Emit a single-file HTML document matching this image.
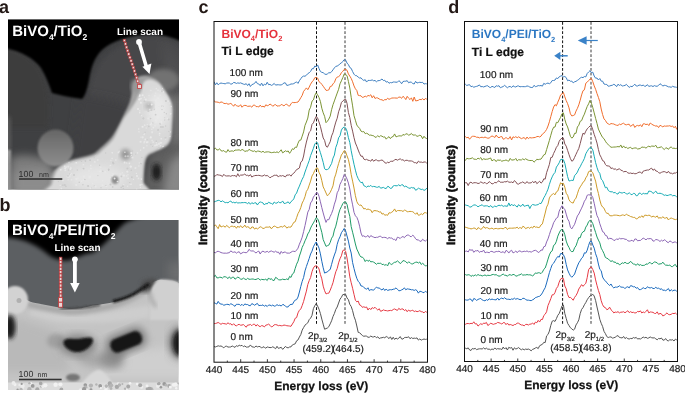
<!DOCTYPE html>
<html><head><meta charset="utf-8"><style>
html,body{margin:0;padding:0;background:#fff;}
body{width:685px;height:393px;position:relative;overflow:hidden;font-family:"Liberation Sans",sans-serif;}
svg{position:absolute;left:0;top:0;}
text{opacity:0.995;text-rendering:geometricPrecision;}
.pl{font:bold 18px "Liberation Sans",sans-serif;fill:#231815;}
.tk{font:10px "Liberation Sans",sans-serif;fill:#1a1a1a;stroke:#1a1a1a;stroke-width:0.2px;}
.lb{font:10px "Liberation Sans",sans-serif;fill:#1a1a1a;stroke:#1a1a1a;stroke-width:0.2px;}
.sub{font-size:7.5px;}
.sub2{font-size:5.9px;}
.ttl{font:bold 12px "Liberation Sans",sans-serif;}
.ttl2{font:bold 12px "Liberation Sans",sans-serif;fill:#111;stroke:#111;stroke-width:0.2px;}
.ax{font:bold 12px "Liberation Sans",sans-serif;fill:#111;stroke:#111;stroke-width:0.25px;}
</style></head><body>
<svg width="685" height="393" viewBox="0 0 685 393">
<defs>
<clipPath id="pa"><rect x="8" y="19.5" width="171" height="170"/></clipPath>
<clipPath id="corec"><path d="M144.00,82.00 C145.58,80.08 148.17,79.67 150.00,79.50 C151.83,79.33 153.33,80.17 155.00,81.00 C156.67,81.83 158.33,82.67 160.00,84.50 C161.67,86.33 163.33,89.42 165.00,92.00 C166.67,94.58 168.83,97.33 170.00,100.00 C171.17,102.67 171.75,103.83 172.00,108.00 C172.25,112.17 171.75,120.17 171.50,125.00 C171.25,129.83 171.25,133.83 170.50,137.00 C169.75,140.17 168.75,142.08 167.00,144.00 C165.25,145.92 162.33,147.25 160.00,148.50 C157.67,149.75 155.08,150.50 153.00,151.50 C150.92,152.50 148.92,153.08 147.50,154.50 C146.08,155.92 145.22,157.42 144.50,160.00 C143.78,162.58 143.52,166.33 143.20,170.00 C142.88,173.67 142.77,177.83 142.60,182.00 C142.43,186.17 157.47,192.83 142.20,195.00 C126.93,197.17 66.03,196.83 51.00,195.00 C35.97,193.17 51.17,187.83 52.00,184.00 C52.83,180.17 54.17,175.08 56.00,172.00 C57.83,168.92 60.33,167.25 63.00,165.50 C65.67,163.75 66.83,163.08 72.00,161.50 C77.17,159.92 88.67,158.17 94.00,156.00 C99.33,153.83 100.83,151.25 104.00,148.50 C107.17,145.75 110.42,143.08 113.00,139.50 C115.58,135.92 117.58,130.67 119.50,127.00 C121.42,123.33 122.67,120.42 124.50,117.50 C126.33,114.58 128.58,112.25 130.50,109.50 C132.42,106.75 134.33,104.08 136.00,101.00 C137.67,97.92 139.17,94.17 140.50,91.00 C141.83,87.83 142.42,83.92 144.00,82.00 Z"/></clipPath>
<clipPath id="pb"><rect x="8" y="220" width="170.5" height="170"/></clipPath>
<filter id="b05" x="-50%" y="-50%" width="200%" height="200%"><feGaussianBlur stdDeviation="0.6"/></filter>
<filter id="b1" x="-20%" y="-20%" width="140%" height="140%"><feGaussianBlur stdDeviation="1.2"/></filter>
<filter id="b2" x="-20%" y="-20%" width="140%" height="140%"><feGaussianBlur stdDeviation="2.2"/></filter>
<filter id="b4" x="-30%" y="-30%" width="160%" height="160%"><feGaussianBlur stdDeviation="4"/></filter>
<filter id="b7" x="-30%" y="-30%" width="160%" height="160%"><feGaussianBlur stdDeviation="7"/></filter>
<linearGradient id="gblob" x1="0" y1="0" x2="0" y2="1"><stop offset="0" stop-color="#666"/><stop offset="1" stop-color="#8e8e8e"/></linearGradient>
</defs>
<!-- ============ PANEL A ============ -->
<g clip-path="url(#pa)">
<rect x="8" y="19.5" width="171" height="170" fill="#3f4042"/>
<path d="M0,45 C15,47 30,55 40,68 C47,80 49,95 49,115 L48,128 L0,128 Z" fill="#3d3d3e" filter="url(#b2)"/>
<circle cx="150" cy="98" r="61" fill="#474748" filter="url(#b2)"/>
<path d="M80,94 C98,97 115,100 132,106 L132,170 L70,170 Z" fill="#3f4043" filter="url(#b4)"/>
<path d="M162,40 C176,50 182,70 182,110 L182,160 L168,160 L168,60 Z" fill="#575758" filter="url(#b7)"/>
<path d="M0,0 H190 V46 C176,38 165,34.5 150,34.5 C130,35 112,41 102,50 C94,58 91,68 89,80 C87,90 85,96 82,99 C75,98 62,96 52,93 C49,85 46,76 41,68 C33,58 22,51 0,47 Z" fill="#050505" filter="url(#b1)"/>
<path d="M0,112 L10,118 L10.5,150 L0,150 Z" fill="#5e5e5e" filter="url(#b2)"/>
<path d="M0,148 L11,150 L12,195 L0,195 Z" fill="#9c9c9c" filter="url(#b1)"/>
<path d="M10,158 C22,152 36,156 50,160 L60,195 L10,195 Z" fill="#7c7c7c" filter="url(#b4)"/>
<path d="M14,172 C25,168 38,168 50,170 L55,195 L14,195 Z" fill="#8c8c8c" filter="url(#b4)"/>
<ellipse cx="55.5" cy="148" rx="18" ry="18.5" fill="url(#gblob)" filter="url(#b1)"/>
<path d="M170,95 L186,95 L186,150 L170,150 Z" fill="#707070" filter="url(#b4)"/>
<path d="M150,152 L186,140 L186,195 L140,195 Z" fill="#5f5f5f" filter="url(#b4)"/>
<path d="M170,162 L186,150 L186,195 L162,195 Z" fill="#888888" filter="url(#b4)"/>
<ellipse cx="156.5" cy="172" rx="4.5" ry="8.5" fill="#1c1c1c" filter="url(#b2)"/>
<ellipse cx="163" cy="80" rx="16" ry="11" fill="#727272" filter="url(#b2)"/>
<path d="M136.00,79.50 C137.17,77.70 138.33,76.85 140.00,76.20 C141.67,75.55 144.00,75.38 146.00,75.60 C148.00,75.82 150.00,76.60 152.00,77.50 C154.00,78.40 155.90,78.95 158.00,81.00 C160.10,83.05 162.68,86.68 164.60,89.80 C166.52,92.92 168.30,96.33 169.50,99.70 C170.70,103.07 171.42,105.78 171.80,110.00 C172.18,114.22 171.93,120.33 171.80,125.00 C171.67,129.67 171.63,134.67 171.00,138.00 C170.37,141.33 169.67,143.08 168.00,145.00 C166.33,146.92 163.33,148.25 161.00,149.50 C158.67,150.75 156.08,151.50 154.00,152.50 C151.92,153.50 149.92,154.08 148.50,155.50 C147.08,156.92 146.22,158.58 145.50,161.00 C144.78,163.42 144.52,166.50 144.20,170.00 C143.88,173.50 143.77,177.83 143.60,182.00 C143.43,186.17 159.05,192.83 143.20,195.00 C127.35,197.17 64.12,196.83 48.50,195.00 C32.88,193.17 49.00,187.33 49.50,184.00 C50.00,180.67 50.58,177.40 51.50,175.00 C52.42,172.60 53.32,171.40 55.00,169.60 C56.68,167.80 59.22,165.72 61.60,164.20 C63.98,162.68 66.20,161.60 69.30,160.50 C72.40,159.40 76.25,158.68 80.20,157.60 C84.15,156.52 89.53,155.68 93.00,154.00 C96.47,152.32 98.00,150.17 101.00,147.50 C104.00,144.83 108.17,141.50 111.00,138.00 C113.83,134.50 115.92,130.25 118.00,126.50 C120.08,122.75 121.67,119.25 123.50,115.50 C125.33,111.75 127.75,107.08 129.00,104.00 C130.25,100.92 130.33,99.83 131.00,97.00 C131.67,94.17 132.17,89.92 133.00,87.00 C133.83,84.08 134.83,81.30 136.00,79.50 Z" fill="#a3a3a3" filter="url(#b1)"/>
<path d="M144.00,82.00 C145.58,80.08 148.17,79.67 150.00,79.50 C151.83,79.33 153.33,80.17 155.00,81.00 C156.67,81.83 158.33,82.67 160.00,84.50 C161.67,86.33 163.33,89.42 165.00,92.00 C166.67,94.58 168.83,97.33 170.00,100.00 C171.17,102.67 171.75,103.83 172.00,108.00 C172.25,112.17 171.75,120.17 171.50,125.00 C171.25,129.83 171.25,133.83 170.50,137.00 C169.75,140.17 168.75,142.08 167.00,144.00 C165.25,145.92 162.33,147.25 160.00,148.50 C157.67,149.75 155.08,150.50 153.00,151.50 C150.92,152.50 148.92,153.08 147.50,154.50 C146.08,155.92 145.22,157.42 144.50,160.00 C143.78,162.58 143.52,166.33 143.20,170.00 C142.88,173.67 142.77,177.83 142.60,182.00 C142.43,186.17 157.47,192.83 142.20,195.00 C126.93,197.17 66.03,196.83 51.00,195.00 C35.97,193.17 51.17,187.83 52.00,184.00 C52.83,180.17 54.17,175.08 56.00,172.00 C57.83,168.92 60.33,167.25 63.00,165.50 C65.67,163.75 66.83,163.08 72.00,161.50 C77.17,159.92 88.67,158.17 94.00,156.00 C99.33,153.83 100.83,151.25 104.00,148.50 C107.17,145.75 110.42,143.08 113.00,139.50 C115.58,135.92 117.58,130.67 119.50,127.00 C121.42,123.33 122.67,120.42 124.50,117.50 C126.33,114.58 128.58,112.25 130.50,109.50 C132.42,106.75 134.33,104.08 136.00,101.00 C137.67,97.92 139.17,94.17 140.50,91.00 C141.83,87.83 142.42,83.92 144.00,82.00 Z" fill="#d9d9d9" filter="url(#b1)"/>
<ellipse cx="136" cy="86" rx="5" ry="7" fill="#969696" filter="url(#b2)"/>
<ellipse cx="158" cy="110" rx="11" ry="18" fill="#e8e8e8" filter="url(#b4)"/>
<ellipse cx="98" cy="178" rx="28" ry="12" fill="#e4e4e4" filter="url(#b4)"/>
<ellipse cx="125.5" cy="154.5" rx="5" ry="5.5" fill="#979797" filter="url(#b2)"/>
<ellipse cx="115" cy="180" rx="3.5" ry="4" fill="#8e8e8e" filter="url(#b1)"/>
<ellipse cx="149" cy="106" rx="4" ry="3.5" fill="#b0b0b0" filter="url(#b2)"/>
<g clip-path="url(#corec)"><g filter="url(#b05)"><circle cx="140.9" cy="102.7" r="1.00" fill="#e9e9e9"/><circle cx="141.2" cy="114.9" r="0.84" fill="#cdcdcd"/><circle cx="143.4" cy="133.5" r="0.66" fill="#cdcdcd"/><circle cx="155.6" cy="114.7" r="0.89" fill="#cdcdcd"/><circle cx="163.1" cy="147.3" r="0.74" fill="#e6e6e6"/><circle cx="161.7" cy="106.1" r="0.60" fill="#cdcdcd"/><circle cx="171.1" cy="106.5" r="0.76" fill="#e6e6e6"/><circle cx="157.9" cy="117.2" r="0.99" fill="#e9e9e9"/><circle cx="139.0" cy="131.8" r="0.79" fill="#e6e6e6"/><circle cx="160.5" cy="145.8" r="0.70" fill="#e6e6e6"/><circle cx="159.4" cy="106.5" r="0.97" fill="#e6e6e6"/><circle cx="145.4" cy="139.5" r="0.93" fill="#e9e9e9"/><circle cx="161.2" cy="138.8" r="0.81" fill="#e9e9e9"/><circle cx="167.9" cy="94.3" r="1.02" fill="#e9e9e9"/><circle cx="151.4" cy="117.7" r="0.67" fill="#e6e6e6"/><circle cx="147.9" cy="142.0" r="0.74" fill="#e9e9e9"/><circle cx="157.1" cy="112.8" r="0.91" fill="#e9e9e9"/><circle cx="144.1" cy="134.3" r="0.98" fill="#e6e6e6"/><circle cx="157.3" cy="145.1" r="0.70" fill="#e6e6e6"/><circle cx="143.7" cy="147.8" r="0.91" fill="#e9e9e9"/><circle cx="158.6" cy="148.2" r="0.99" fill="#cdcdcd"/><circle cx="139.8" cy="110.9" r="0.64" fill="#e9e9e9"/><circle cx="144.6" cy="101.3" r="1.03" fill="#cdcdcd"/><circle cx="148.1" cy="118.6" r="1.02" fill="#e6e6e6"/><circle cx="170.8" cy="131.9" r="0.71" fill="#e9e9e9"/><circle cx="162.0" cy="91.2" r="0.94" fill="#cdcdcd"/><circle cx="150.5" cy="124.6" r="0.93" fill="#e9e9e9"/><circle cx="155.8" cy="122.4" r="0.70" fill="#e9e9e9"/><circle cx="154.8" cy="95.8" r="0.84" fill="#e9e9e9"/><circle cx="164.3" cy="112.4" r="0.61" fill="#cdcdcd"/><circle cx="155.9" cy="100.7" r="0.97" fill="#e9e9e9"/><circle cx="150.9" cy="144.4" r="0.80" fill="#cdcdcd"/><circle cx="149.9" cy="109.6" r="0.84" fill="#e6e6e6"/><circle cx="156.6" cy="145.1" r="0.88" fill="#e6e6e6"/><circle cx="163.3" cy="146.7" r="1.02" fill="#e9e9e9"/><circle cx="165.6" cy="138.8" r="0.73" fill="#e9e9e9"/><circle cx="154.4" cy="109.2" r="0.73" fill="#cdcdcd"/><circle cx="148.8" cy="126.4" r="0.89" fill="#cdcdcd"/><circle cx="141.5" cy="115.4" r="0.79" fill="#e6e6e6"/><circle cx="141.0" cy="98.5" r="0.86" fill="#e9e9e9"/><circle cx="151.8" cy="129.3" r="0.77" fill="#e6e6e6"/><circle cx="169.7" cy="103.1" r="0.67" fill="#e6e6e6"/><circle cx="147.5" cy="109.1" r="0.71" fill="#cdcdcd"/><circle cx="169.9" cy="95.8" r="0.81" fill="#cdcdcd"/><circle cx="160.7" cy="142.9" r="1.10" fill="#e6e6e6"/><circle cx="156.3" cy="142.6" r="0.63" fill="#e6e6e6"/><circle cx="158.0" cy="98.8" r="0.98" fill="#e9e9e9"/><circle cx="156.3" cy="88.6" r="0.63" fill="#e9e9e9"/><circle cx="152.1" cy="140.5" r="0.72" fill="#e6e6e6"/><circle cx="151.8" cy="104.4" r="0.95" fill="#e9e9e9"/><circle cx="148.5" cy="111.1" r="0.98" fill="#cdcdcd"/><circle cx="164.7" cy="120.0" r="0.68" fill="#cdcdcd"/><circle cx="153.1" cy="142.1" r="0.88" fill="#e6e6e6"/><circle cx="138.0" cy="109.1" r="0.98" fill="#e9e9e9"/><circle cx="161.3" cy="122.8" r="0.93" fill="#e9e9e9"/><circle cx="161.2" cy="121.9" r="0.88" fill="#e9e9e9"/><circle cx="160.7" cy="108.1" r="0.93" fill="#e6e6e6"/><circle cx="164.7" cy="117.8" r="0.61" fill="#cdcdcd"/><circle cx="156.3" cy="141.2" r="0.92" fill="#cdcdcd"/><circle cx="151.3" cy="110.1" r="0.96" fill="#cdcdcd"/><circle cx="140.6" cy="141.7" r="1.04" fill="#e6e6e6"/><circle cx="142.6" cy="95.2" r="1.05" fill="#e9e9e9"/><circle cx="151.6" cy="104.8" r="0.79" fill="#e9e9e9"/><circle cx="143.5" cy="118.2" r="0.93" fill="#cdcdcd"/><circle cx="162.5" cy="88.8" r="1.01" fill="#cdcdcd"/><circle cx="152.8" cy="122.9" r="0.74" fill="#cdcdcd"/><circle cx="168.1" cy="101.2" r="0.87" fill="#e6e6e6"/><circle cx="158.9" cy="143.9" r="1.04" fill="#e6e6e6"/><circle cx="142.6" cy="126.7" r="1.05" fill="#e9e9e9"/><circle cx="152.1" cy="132.2" r="0.97" fill="#e6e6e6"/><circle cx="153.3" cy="127.6" r="0.93" fill="#e9e9e9"/><circle cx="160.2" cy="123.8" r="0.95" fill="#cdcdcd"/><circle cx="155.4" cy="108.9" r="0.82" fill="#e6e6e6"/><circle cx="144.4" cy="97.2" r="0.61" fill="#e9e9e9"/><circle cx="167.0" cy="149.3" r="0.72" fill="#e6e6e6"/><circle cx="144.7" cy="125.2" r="0.84" fill="#e6e6e6"/><circle cx="165.9" cy="101.0" r="1.04" fill="#cdcdcd"/><circle cx="165.5" cy="137.7" r="1.06" fill="#cdcdcd"/><circle cx="155.0" cy="125.8" r="0.88" fill="#e6e6e6"/><circle cx="155.1" cy="145.5" r="1.05" fill="#e6e6e6"/><circle cx="138.7" cy="129.1" r="0.76" fill="#e9e9e9"/><circle cx="142.7" cy="137.3" r="1.08" fill="#e6e6e6"/><circle cx="155.7" cy="111.8" r="0.85" fill="#e6e6e6"/><circle cx="163.4" cy="92.0" r="0.71" fill="#e9e9e9"/><circle cx="167.5" cy="118.6" r="0.93" fill="#e9e9e9"/><circle cx="159.6" cy="133.5" r="0.87" fill="#e9e9e9"/><circle cx="145.8" cy="99.6" r="1.10" fill="#e9e9e9"/><circle cx="161.5" cy="142.6" r="0.72" fill="#e6e6e6"/><circle cx="139.7" cy="112.8" r="0.76" fill="#e9e9e9"/><circle cx="152.5" cy="146.4" r="0.66" fill="#cdcdcd"/><circle cx="170.1" cy="90.8" r="1.07" fill="#cdcdcd"/><circle cx="162.7" cy="88.2" r="0.82" fill="#e6e6e6"/><circle cx="161.0" cy="127.0" r="1.00" fill="#cdcdcd"/><circle cx="151.6" cy="126.0" r="0.61" fill="#e6e6e6"/><circle cx="166.4" cy="113.8" r="0.72" fill="#cdcdcd"/><circle cx="160.1" cy="91.0" r="0.72" fill="#e6e6e6"/><circle cx="148.3" cy="104.0" r="0.97" fill="#cdcdcd"/><circle cx="168.7" cy="131.5" r="0.75" fill="#cdcdcd"/><circle cx="149.0" cy="95.6" r="0.72" fill="#e6e6e6"/><circle cx="162.9" cy="106.3" r="0.77" fill="#cdcdcd"/><circle cx="165.3" cy="147.4" r="0.64" fill="#e9e9e9"/><circle cx="163.8" cy="118.7" r="0.81" fill="#e6e6e6"/><circle cx="159.5" cy="135.1" r="0.63" fill="#e9e9e9"/><circle cx="170.6" cy="113.8" r="0.83" fill="#e9e9e9"/><circle cx="147.3" cy="124.4" r="0.70" fill="#e6e6e6"/><circle cx="168.7" cy="119.4" r="1.01" fill="#cdcdcd"/><circle cx="144.1" cy="142.8" r="0.66" fill="#e9e9e9"/><circle cx="162.5" cy="106.7" r="0.66" fill="#e6e6e6"/><circle cx="141.0" cy="137.2" r="0.61" fill="#e6e6e6"/><circle cx="170.1" cy="136.5" r="0.79" fill="#e6e6e6"/><circle cx="144.5" cy="141.8" r="0.99" fill="#e6e6e6"/><circle cx="156.0" cy="120.6" r="1.09" fill="#e9e9e9"/><circle cx="155.8" cy="93.2" r="0.64" fill="#e9e9e9"/><circle cx="162.9" cy="127.0" r="0.97" fill="#cdcdcd"/><circle cx="148.0" cy="111.0" r="0.73" fill="#cdcdcd"/><circle cx="147.1" cy="139.7" r="0.67" fill="#cdcdcd"/><circle cx="145.1" cy="132.3" r="0.80" fill="#cdcdcd"/><circle cx="171.1" cy="143.4" r="0.71" fill="#cdcdcd"/><circle cx="143.3" cy="118.5" r="0.89" fill="#cdcdcd"/><circle cx="158.1" cy="130.0" r="1.01" fill="#cdcdcd"/><circle cx="146.2" cy="128.0" r="0.63" fill="#e9e9e9"/><circle cx="139.9" cy="95.2" r="0.99" fill="#e6e6e6"/><circle cx="150.6" cy="118.6" r="0.83" fill="#cdcdcd"/><circle cx="139.6" cy="99.3" r="1.03" fill="#e6e6e6"/><circle cx="149.5" cy="114.1" r="0.73" fill="#e6e6e6"/><circle cx="161.9" cy="111.8" r="0.85" fill="#e9e9e9"/><circle cx="151.5" cy="123.5" r="0.90" fill="#e9e9e9"/><circle cx="168.7" cy="146.9" r="0.63" fill="#cdcdcd"/><circle cx="150.9" cy="90.5" r="0.79" fill="#e6e6e6"/><circle cx="161.1" cy="123.2" r="0.64" fill="#e9e9e9"/><circle cx="165.6" cy="126.0" r="0.75" fill="#cdcdcd"/><circle cx="139.3" cy="99.6" r="0.99" fill="#e9e9e9"/><circle cx="139.6" cy="96.2" r="0.85" fill="#e6e6e6"/><circle cx="158.0" cy="90.3" r="0.74" fill="#e9e9e9"/><circle cx="162.0" cy="109.6" r="0.70" fill="#cdcdcd"/><circle cx="146.9" cy="145.7" r="0.62" fill="#e6e6e6"/><circle cx="156.8" cy="144.4" r="0.95" fill="#e6e6e6"/><circle cx="160.1" cy="95.4" r="0.85" fill="#e6e6e6"/><circle cx="146.9" cy="142.3" r="1.03" fill="#e9e9e9"/><circle cx="150.8" cy="137.4" r="1.09" fill="#e9e9e9"/></g>
<g filter="url(#b05)"><circle cx="89.0" cy="171.0" r="0.68" fill="#e5e5e5"/><circle cx="118.5" cy="152.4" r="0.90" fill="#e5e5e5"/><circle cx="67.5" cy="176.8" r="0.98" fill="#e5e5e5"/><circle cx="90.8" cy="165.6" r="0.80" fill="#e8e8e8"/><circle cx="117.3" cy="181.5" r="0.66" fill="#e5e5e5"/><circle cx="62.6" cy="159.4" r="0.97" fill="#e5e5e5"/><circle cx="136.7" cy="189.2" r="0.63" fill="#e8e8e8"/><circle cx="131.3" cy="170.2" r="0.77" fill="#cbcbcb"/><circle cx="123.7" cy="184.6" r="0.67" fill="#e8e8e8"/><circle cx="70.4" cy="157.2" r="0.87" fill="#cbcbcb"/><circle cx="79.2" cy="182.2" r="0.78" fill="#cbcbcb"/><circle cx="110.9" cy="160.5" r="0.63" fill="#e5e5e5"/><circle cx="141.9" cy="157.4" r="0.67" fill="#cbcbcb"/><circle cx="58.3" cy="181.6" r="0.64" fill="#cbcbcb"/><circle cx="61.3" cy="188.6" r="0.86" fill="#e5e5e5"/><circle cx="133.4" cy="179.4" r="0.61" fill="#e8e8e8"/><circle cx="112.1" cy="152.6" r="0.61" fill="#e5e5e5"/><circle cx="83.8" cy="179.9" r="0.86" fill="#e8e8e8"/><circle cx="123.9" cy="175.6" r="1.09" fill="#e8e8e8"/><circle cx="129.7" cy="182.9" r="0.89" fill="#cbcbcb"/><circle cx="100.5" cy="167.2" r="0.92" fill="#e5e5e5"/><circle cx="94.9" cy="175.9" r="0.75" fill="#e5e5e5"/><circle cx="76.2" cy="154.3" r="1.00" fill="#e5e5e5"/><circle cx="128.1" cy="178.3" r="0.90" fill="#e8e8e8"/><circle cx="62.9" cy="185.2" r="0.84" fill="#cbcbcb"/><circle cx="68.2" cy="179.8" r="0.67" fill="#e8e8e8"/><circle cx="138.5" cy="178.4" r="0.87" fill="#e5e5e5"/><circle cx="77.3" cy="170.0" r="0.64" fill="#cbcbcb"/><circle cx="81.5" cy="161.4" r="0.68" fill="#cbcbcb"/><circle cx="63.3" cy="151.0" r="0.77" fill="#cbcbcb"/><circle cx="141.3" cy="179.1" r="0.81" fill="#e8e8e8"/><circle cx="68.2" cy="166.7" r="0.93" fill="#e5e5e5"/><circle cx="127.4" cy="168.5" r="1.03" fill="#cbcbcb"/><circle cx="129.4" cy="163.3" r="0.83" fill="#e8e8e8"/><circle cx="71.5" cy="173.4" r="0.62" fill="#e5e5e5"/><circle cx="71.7" cy="169.1" r="0.69" fill="#cbcbcb"/><circle cx="58.1" cy="166.9" r="0.81" fill="#e5e5e5"/><circle cx="68.5" cy="169.9" r="0.75" fill="#cbcbcb"/><circle cx="64.8" cy="166.4" r="0.93" fill="#e5e5e5"/><circle cx="117.9" cy="181.6" r="0.61" fill="#e5e5e5"/><circle cx="76.1" cy="161.3" r="0.90" fill="#cbcbcb"/><circle cx="105.7" cy="153.0" r="0.74" fill="#cbcbcb"/><circle cx="71.5" cy="179.8" r="0.94" fill="#e5e5e5"/><circle cx="131.6" cy="155.4" r="0.61" fill="#e5e5e5"/><circle cx="89.4" cy="176.7" r="1.07" fill="#e8e8e8"/><circle cx="69.5" cy="173.9" r="0.61" fill="#cbcbcb"/><circle cx="126.7" cy="162.9" r="0.65" fill="#e8e8e8"/><circle cx="127.6" cy="186.3" r="0.69" fill="#e5e5e5"/><circle cx="141.8" cy="184.4" r="0.76" fill="#e5e5e5"/><circle cx="70.7" cy="167.5" r="0.70" fill="#e5e5e5"/><circle cx="73.3" cy="160.9" r="1.04" fill="#cbcbcb"/><circle cx="135.5" cy="168.0" r="0.97" fill="#e5e5e5"/><circle cx="101.0" cy="187.8" r="0.69" fill="#cbcbcb"/><circle cx="100.7" cy="170.3" r="0.77" fill="#e5e5e5"/><circle cx="83.6" cy="153.6" r="0.85" fill="#e8e8e8"/><circle cx="130.8" cy="166.6" r="1.09" fill="#e8e8e8"/><circle cx="139.2" cy="162.8" r="0.66" fill="#e5e5e5"/><circle cx="137.0" cy="176.0" r="1.08" fill="#e8e8e8"/><circle cx="98.1" cy="171.0" r="0.64" fill="#e5e5e5"/><circle cx="135.7" cy="154.1" r="0.67" fill="#cbcbcb"/><circle cx="60.8" cy="169.8" r="0.90" fill="#e8e8e8"/><circle cx="131.8" cy="177.2" r="0.92" fill="#cbcbcb"/><circle cx="108.6" cy="170.2" r="0.64" fill="#cbcbcb"/><circle cx="112.1" cy="158.5" r="0.81" fill="#e5e5e5"/><circle cx="112.4" cy="174.0" r="0.72" fill="#e8e8e8"/><circle cx="69.8" cy="176.5" r="0.96" fill="#e5e5e5"/><circle cx="69.1" cy="160.8" r="0.67" fill="#cbcbcb"/><circle cx="82.9" cy="184.8" r="0.73" fill="#cbcbcb"/><circle cx="112.1" cy="175.4" r="1.07" fill="#e5e5e5"/><circle cx="136.4" cy="173.4" r="0.60" fill="#e8e8e8"/><circle cx="85.4" cy="179.6" r="0.77" fill="#e5e5e5"/><circle cx="67.9" cy="175.9" r="0.79" fill="#cbcbcb"/><circle cx="137.5" cy="152.9" r="0.78" fill="#e5e5e5"/><circle cx="90.9" cy="168.5" r="0.77" fill="#e8e8e8"/><circle cx="66.2" cy="162.8" r="1.04" fill="#cbcbcb"/><circle cx="84.0" cy="176.7" r="1.00" fill="#e8e8e8"/><circle cx="124.9" cy="152.2" r="0.68" fill="#e5e5e5"/><circle cx="81.5" cy="181.1" r="0.92" fill="#e8e8e8"/><circle cx="131.3" cy="153.1" r="1.07" fill="#e8e8e8"/><circle cx="78.0" cy="178.4" r="0.60" fill="#e8e8e8"/><circle cx="130.7" cy="166.6" r="0.97" fill="#e8e8e8"/><circle cx="60.2" cy="185.3" r="0.65" fill="#e8e8e8"/><circle cx="71.0" cy="168.3" r="0.73" fill="#e8e8e8"/><circle cx="74.0" cy="174.9" r="0.98" fill="#cbcbcb"/><circle cx="138.9" cy="166.0" r="0.74" fill="#e5e5e5"/><circle cx="112.7" cy="186.9" r="0.89" fill="#cbcbcb"/><circle cx="94.8" cy="161.9" r="0.96" fill="#e5e5e5"/><circle cx="64.0" cy="162.0" r="0.68" fill="#cbcbcb"/><circle cx="99.6" cy="165.2" r="0.68" fill="#cbcbcb"/><circle cx="113.4" cy="163.6" r="1.02" fill="#cbcbcb"/><circle cx="66.5" cy="152.3" r="0.95" fill="#e5e5e5"/><circle cx="121.2" cy="187.4" r="0.86" fill="#cbcbcb"/><circle cx="126.6" cy="175.9" r="0.86" fill="#e5e5e5"/><circle cx="141.3" cy="163.8" r="0.81" fill="#cbcbcb"/><circle cx="97.9" cy="175.6" r="0.63" fill="#cbcbcb"/><circle cx="61.2" cy="165.2" r="0.82" fill="#cbcbcb"/><circle cx="105.5" cy="172.9" r="0.90" fill="#e5e5e5"/><circle cx="85.6" cy="179.5" r="0.81" fill="#e5e5e5"/><circle cx="127.4" cy="171.7" r="0.88" fill="#e8e8e8"/><circle cx="140.6" cy="150.2" r="0.66" fill="#e8e8e8"/><circle cx="65.5" cy="158.3" r="0.61" fill="#e8e8e8"/><circle cx="70.6" cy="169.0" r="1.04" fill="#e8e8e8"/><circle cx="97.8" cy="159.9" r="0.75" fill="#e8e8e8"/><circle cx="83.8" cy="168.8" r="0.81" fill="#cbcbcb"/><circle cx="64.8" cy="185.0" r="1.08" fill="#cbcbcb"/><circle cx="65.9" cy="186.4" r="0.78" fill="#cbcbcb"/><circle cx="90.1" cy="160.2" r="1.06" fill="#cbcbcb"/><circle cx="83.3" cy="164.8" r="0.81" fill="#e8e8e8"/><circle cx="90.0" cy="176.9" r="1.07" fill="#e8e8e8"/><circle cx="129.2" cy="184.0" r="0.71" fill="#e5e5e5"/><circle cx="140.2" cy="185.0" r="0.96" fill="#e8e8e8"/><circle cx="95.6" cy="180.3" r="0.88" fill="#e5e5e5"/><circle cx="62.9" cy="180.6" r="0.81" fill="#e8e8e8"/><circle cx="87.2" cy="154.1" r="0.78" fill="#e5e5e5"/><circle cx="59.3" cy="189.9" r="0.67" fill="#e8e8e8"/><circle cx="83.3" cy="168.4" r="0.77" fill="#cbcbcb"/><circle cx="132.5" cy="157.5" r="1.10" fill="#e5e5e5"/><circle cx="140.6" cy="163.4" r="0.64" fill="#cbcbcb"/><circle cx="128.0" cy="156.3" r="0.97" fill="#cbcbcb"/><circle cx="76.3" cy="162.7" r="0.88" fill="#e8e8e8"/><circle cx="131.0" cy="184.2" r="0.84" fill="#e8e8e8"/><circle cx="125.5" cy="156.2" r="1.07" fill="#cbcbcb"/><circle cx="130.6" cy="159.4" r="0.91" fill="#cbcbcb"/><circle cx="112.4" cy="152.9" r="0.63" fill="#e8e8e8"/><circle cx="76.7" cy="154.2" r="0.84" fill="#cbcbcb"/><circle cx="106.4" cy="186.2" r="0.85" fill="#e8e8e8"/><circle cx="95.7" cy="155.1" r="1.08" fill="#cbcbcb"/><circle cx="140.4" cy="187.4" r="0.64" fill="#e8e8e8"/><circle cx="108.7" cy="169.5" r="0.98" fill="#cbcbcb"/><circle cx="113.4" cy="174.4" r="0.79" fill="#e5e5e5"/><circle cx="68.6" cy="177.4" r="0.62" fill="#e5e5e5"/><circle cx="60.3" cy="162.3" r="0.72" fill="#cbcbcb"/><circle cx="110.0" cy="177.4" r="0.95" fill="#e5e5e5"/><circle cx="121.4" cy="176.4" r="0.87" fill="#cbcbcb"/><circle cx="123.4" cy="188.9" r="0.84" fill="#cbcbcb"/><circle cx="110.4" cy="165.5" r="0.84" fill="#e8e8e8"/><circle cx="113.0" cy="162.6" r="1.06" fill="#cbcbcb"/><circle cx="110.5" cy="184.4" r="1.01" fill="#cbcbcb"/><circle cx="114.6" cy="178.6" r="0.98" fill="#e5e5e5"/><circle cx="94.3" cy="185.9" r="0.68" fill="#cbcbcb"/><circle cx="68.8" cy="162.5" r="0.72" fill="#e8e8e8"/><circle cx="102.6" cy="185.4" r="0.88" fill="#e8e8e8"/><circle cx="76.2" cy="185.0" r="1.04" fill="#e8e8e8"/><circle cx="122.4" cy="172.7" r="0.69" fill="#e5e5e5"/><circle cx="86.3" cy="179.4" r="0.69" fill="#e5e5e5"/><circle cx="102.8" cy="171.2" r="0.69" fill="#cbcbcb"/><circle cx="127.3" cy="171.6" r="0.94" fill="#e8e8e8"/><circle cx="84.9" cy="179.5" r="0.80" fill="#cbcbcb"/><circle cx="135.5" cy="168.3" r="0.70" fill="#e5e5e5"/><circle cx="91.1" cy="188.1" r="0.75" fill="#cbcbcb"/><circle cx="132.7" cy="151.0" r="0.67" fill="#cbcbcb"/><circle cx="120.3" cy="174.1" r="0.81" fill="#e5e5e5"/><circle cx="92.7" cy="183.7" r="0.71" fill="#e8e8e8"/><circle cx="89.3" cy="177.7" r="1.01" fill="#e8e8e8"/><circle cx="94.1" cy="157.8" r="0.72" fill="#cbcbcb"/><circle cx="66.1" cy="167.1" r="0.92" fill="#e5e5e5"/><circle cx="90.5" cy="188.3" r="1.07" fill="#e8e8e8"/><circle cx="124.6" cy="162.5" r="0.98" fill="#e8e8e8"/><circle cx="62.4" cy="150.8" r="0.63" fill="#e5e5e5"/><circle cx="119.1" cy="151.3" r="0.79" fill="#e5e5e5"/><circle cx="108.1" cy="183.9" r="0.88" fill="#e5e5e5"/><circle cx="65.3" cy="170.3" r="1.00" fill="#e5e5e5"/><circle cx="127.9" cy="174.8" r="0.69" fill="#e5e5e5"/><circle cx="62.1" cy="160.8" r="0.87" fill="#e5e5e5"/><circle cx="70.6" cy="174.8" r="0.76" fill="#e8e8e8"/><circle cx="102.6" cy="180.7" r="0.73" fill="#e8e8e8"/><circle cx="105.9" cy="185.5" r="0.61" fill="#cbcbcb"/><circle cx="107.7" cy="189.9" r="0.74" fill="#e8e8e8"/><circle cx="99.1" cy="177.4" r="0.90" fill="#e5e5e5"/><circle cx="130.6" cy="156.5" r="0.96" fill="#cbcbcb"/><circle cx="95.4" cy="186.5" r="1.07" fill="#e8e8e8"/><circle cx="88.1" cy="186.0" r="1.07" fill="#cbcbcb"/><circle cx="122.9" cy="186.2" r="1.07" fill="#cbcbcb"/><circle cx="88.2" cy="152.3" r="0.82" fill="#cbcbcb"/><circle cx="76.2" cy="179.0" r="0.91" fill="#e8e8e8"/><circle cx="115.9" cy="160.0" r="0.79" fill="#e8e8e8"/><circle cx="100.1" cy="171.5" r="1.07" fill="#e8e8e8"/><circle cx="85.4" cy="161.0" r="0.89" fill="#cbcbcb"/><circle cx="65.2" cy="168.3" r="1.05" fill="#e8e8e8"/><circle cx="105.1" cy="171.8" r="0.77" fill="#e8e8e8"/></g></g>
</g>
<rect x="123.20" y="39.30" width="2.2" height="2.4" fill="#eadada" stroke="#c23b3d" stroke-width="0.6"/>
<rect x="124.32" y="42.68" width="2.2" height="2.4" fill="#eadada" stroke="#c23b3d" stroke-width="0.6"/>
<rect x="125.45" y="46.07" width="2.2" height="2.4" fill="#eadada" stroke="#c23b3d" stroke-width="0.6"/>
<rect x="126.57" y="49.45" width="2.2" height="2.4" fill="#eadada" stroke="#c23b3d" stroke-width="0.6"/>
<rect x="127.69" y="52.84" width="2.2" height="2.4" fill="#eadada" stroke="#c23b3d" stroke-width="0.6"/>
<rect x="128.82" y="56.22" width="2.2" height="2.4" fill="#eadada" stroke="#c23b3d" stroke-width="0.6"/>
<rect x="129.94" y="59.61" width="2.2" height="2.4" fill="#eadada" stroke="#c23b3d" stroke-width="0.6"/>
<rect x="131.06" y="62.99" width="2.2" height="2.4" fill="#eadada" stroke="#c23b3d" stroke-width="0.6"/>
<rect x="132.18" y="66.38" width="2.2" height="2.4" fill="#eadada" stroke="#c23b3d" stroke-width="0.6"/>
<rect x="133.31" y="69.76" width="2.2" height="2.4" fill="#eadada" stroke="#c23b3d" stroke-width="0.6"/>
<rect x="134.43" y="73.15" width="2.2" height="2.4" fill="#eadada" stroke="#c23b3d" stroke-width="0.6"/>
<rect x="135.55" y="76.53" width="2.2" height="2.4" fill="#eadada" stroke="#c23b3d" stroke-width="0.6"/>
<rect x="136.68" y="79.92" width="2.2" height="2.4" fill="#eadada" stroke="#c23b3d" stroke-width="0.6"/>
<rect x="137.80" y="83.30" width="2.2" height="2.4" fill="#eadada" stroke="#c23b3d" stroke-width="0.6"/>
<rect x="137.6" y="84.6" width="3.8" height="3.8" fill="#ead6d6" stroke="#c23b3d" stroke-width="0.8"/>
<path d="M139,42 L146,65.5" stroke="#fff" stroke-width="3.6" stroke-linecap="round"/>
<circle cx="139" cy="42" r="2.9" fill="#fff"/>
<path d="M142.4,66.8 L151.4,63.4 L149.5,74 Z" fill="#fff"/>
<text x="12.2" y="36" style="font:bold 15px 'Liberation Sans',sans-serif;fill:#fff">BiVO<tspan style="font-size:8.5px" dy="4">4</tspan><tspan dy="-4">/TiO</tspan><tspan style="font-size:8.5px" dy="4">2</tspan></text>
<text x="116.9" y="35.4" style="font:bold 10px 'Liberation Sans',sans-serif;fill:#fff">Line scan</text>
<text x="18.6" y="176.9" style="font:8.8px 'Liberation Sans',sans-serif;fill:#2b2b2b">100</text><text x="39.1" y="176.9" style="font:7.1px 'Liberation Sans',sans-serif;fill:#2b2b2b">nm</text>
<rect x="19" y="178.2" width="43.3" height="1.6" fill="#333"/>
<text x="-0.9" y="13" style="font:bold 18px 'Liberation Sans',sans-serif;fill:#231815">a</text>

<!-- ============ PANEL B ============ -->
<g clip-path="url(#pb)">
<rect x="8" y="220" width="171" height="170" fill="#c4c4c4"/>
<path d="M0,312 C20,318 40,326 62,333 L70,372 L0,372 Z" fill="#b9b9b9" filter="url(#b4)"/>
<path d="M30,309 C50,312 70,314 94,313 C110,312 130,308 150,305 L150,318 C120,322 90,324 60,322 C45,320 35,316 30,315 Z" fill="#cdcdcd" filter="url(#b2)"/>
<path d="M95,355 C115,352 150,350 185,345 L185,378 L95,378 Z" fill="#cfcfcf" filter="url(#b4)"/>
<path d="M27,304 C40,307 55,310 69,312 C82,312.5 95,309.5 111,306 C125,302.5 136,297 146,290" stroke="#a3a3a3" stroke-width="5" fill="none" filter="url(#b2)"/>
<path d="M0.00,218.00 C31.00,206.67 155.00,207.83 186.00,218.00 C217.00,228.17 188.33,268.58 186.00,279.00 C183.67,289.42 176.33,280.37 172.00,280.50 C167.67,280.63 163.38,279.37 160.00,279.80 C156.62,280.23 154.27,281.95 151.70,283.10 C149.13,284.25 147.27,285.05 144.60,286.70 C141.93,288.35 138.97,291.07 135.70,293.00 C132.43,294.93 129.15,296.68 125.00,298.30 C120.85,299.92 116.13,301.48 110.80,302.70 C105.47,303.92 97.92,304.68 93.00,305.60 C88.08,306.52 85.30,307.63 81.30,308.20 C77.30,308.77 73.58,309.27 69.00,309.00 C64.42,308.73 58.88,307.50 53.80,306.60 C48.72,305.70 42.83,304.62 38.50,303.60 C34.17,302.58 31.72,302.43 27.80,300.50 C23.88,298.57 19.63,294.42 15.00,292.00 C10.37,289.58 2.50,298.33 0.00,286.00 C-2.50,273.67 -31.00,229.33 0.00,218.00 Z" fill="#5c5f62" filter="url(#b05)"/>
<path d="M142,282 C148,279 152,278 156,279 L156,292 L140,292 Z" fill="#48494a" filter="url(#b2)"/>
<path d="M113,301.5 C122,299.5 129,297 135,293.5 C140,290.5 144,287.5 149,284" stroke="#141414" stroke-width="3" fill="none" filter="url(#b1)"/>
<path d="M168,262 L186,262 L186,282 L168,282 Z" fill="#6c6d6e" filter="url(#b4)"/>
<path d="M60,308.5 C75,309.5 90,307 100,305" stroke="#3a3a3a" stroke-width="1.6" fill="none" filter="url(#b1)"/>
<path d="M0.00,212.00 C23.33,207.92 117.67,210.83 140.00,212.00 C162.33,213.17 136.17,217.37 134.00,219.00 C131.83,220.63 129.17,220.55 127.00,221.80 C124.83,223.05 123.17,224.47 121.00,226.50 C118.83,228.53 116.83,231.08 114.00,234.00 C111.17,236.92 107.33,241.00 104.00,244.00 C100.67,247.00 97.03,250.33 94.00,252.00 C90.97,253.67 88.90,253.02 85.80,254.00 C82.70,254.98 78.63,256.82 75.40,257.90 C72.17,258.98 69.42,260.28 66.40,260.50 C63.38,260.72 59.90,259.85 57.30,259.20 C54.70,258.55 52.97,257.90 50.80,256.60 C48.63,255.30 47.10,253.33 44.30,251.40 C41.50,249.47 37.88,246.93 34.00,245.00 C30.12,243.07 25.33,241.10 21.00,239.80 C16.67,238.50 11.50,237.75 8.00,237.20 C4.50,236.65 1.33,240.70 0.00,236.50 C-1.33,232.30 -23.33,216.08 0.00,212.00 Z" fill="#060606" filter="url(#b2)"/>
<path d="M150,296 C150,288 155,281 161,279.6 C167,279 173,280 178,282 L186,290 L186,320 L150,320 Z" fill="#d0d0d0" filter="url(#b1)"/>
<path d="M149,290 C150,297 152,302 156,307" stroke="#9a9a9a" stroke-width="2.5" fill="none" filter="url(#b2)"/>
<ellipse cx="15" cy="300" rx="13" ry="14" fill="#d2d2d2" filter="url(#b1)"/>
<circle cx="19" cy="300.5" r="2.5" fill="#b0b0b0" filter="url(#b05)"/>
<ellipse cx="10" cy="327" rx="5.5" ry="12" fill="#1e1e1e" filter="url(#b2)"/>
<ellipse cx="56" cy="341" rx="9" ry="7" fill="#a0a0a0" filter="url(#b2)"/>
<path d="M65,349 C80,352 100,356 115,352 L118,366 C105,370 90,368 80,362 Z" fill="#a6a6a6" filter="url(#b4)"/>
<ellipse cx="78" cy="345" rx="18" ry="10" fill="#7a7a7a" filter="url(#b4)"/>
<path d="M63.5,343 C63,339 68,338.5 73,339 C80,339.5 86,337 90,337.5 C94,338 93.5,342 91,345 C87,349.5 82,352.5 76,352 C70,351.5 64,347 63.5,343 Z" fill="#121212" filter="url(#b1)"/>
<path d="M100,352 C108,354 118,352 125,349 L122,366 C112,369 104,366 100,360 Z" fill="#8e8e8e" filter="url(#b4)"/>
<g transform="rotate(-22 126 342)"><rect x="106" y="332" width="40" height="20" rx="8" fill="#707070" filter="url(#b4)"/>
<rect x="110" y="335" width="32.5" height="14" rx="6" fill="#131313" filter="url(#b1)"/></g>
<ellipse cx="180" cy="343" rx="10" ry="15.5" fill="#5a5a5a" filter="url(#b4)"/>
<ellipse cx="181" cy="343" rx="8" ry="13" fill="#141414" filter="url(#b2)"/>
<ellipse cx="73" cy="377.5" rx="7" ry="3.8" fill="#767676" filter="url(#b1)"/>
<path d="M75,392 C82,382 90,372 98,370 C104,370 110,378 118,392 Z" fill="#d8d8d8" filter="url(#b1)"/>
<rect x="8" y="382.5" width="171" height="9" fill="#dcdcdc" filter="url(#b05)"/>
<g filter="url(#b05)"><circle cx="108.7" cy="386.2" r="1.78" fill="#b5b5b5"/><circle cx="137.1" cy="384.0" r="1.21" fill="#f2f2f2"/><circle cx="126.0" cy="389.8" r="1.72" fill="#f2f2f2"/><circle cx="55.6" cy="384.7" r="2.18" fill="#f2f2f2"/><circle cx="158.0" cy="386.1" r="1.98" fill="#ececec"/><circle cx="141.5" cy="387.1" r="1.82" fill="#ececec"/><circle cx="169.2" cy="386.0" r="1.88" fill="#a8a8a8"/><circle cx="15.0" cy="384.8" r="1.43" fill="#f2f2f2"/><circle cx="106.1" cy="386.2" r="2.13" fill="#ececec"/><circle cx="60.3" cy="383.5" r="1.21" fill="#a8a8a8"/><circle cx="109.8" cy="383.4" r="2.13" fill="#a8a8a8"/><circle cx="22.6" cy="388.5" r="1.15" fill="#ececec"/><circle cx="96.4" cy="384.5" r="1.21" fill="#b5b5b5"/><circle cx="159.2" cy="383.6" r="1.25" fill="#9a9a9a"/><circle cx="91.0" cy="389.7" r="1.44" fill="#9a9a9a"/><circle cx="100.6" cy="386.2" r="1.92" fill="#f2f2f2"/><circle cx="41.4" cy="386.7" r="1.04" fill="#9a9a9a"/><circle cx="178.3" cy="383.5" r="1.12" fill="#9a9a9a"/><circle cx="106.0" cy="389.5" r="1.67" fill="#f2f2f2"/><circle cx="62.5" cy="389.9" r="1.25" fill="#f2f2f2"/><circle cx="140.2" cy="385.3" r="2.00" fill="#a8a8a8"/><circle cx="61.4" cy="389.5" r="1.93" fill="#a8a8a8"/><circle cx="90.9" cy="385.6" r="2.13" fill="#b5b5b5"/><circle cx="40.7" cy="383.4" r="1.80" fill="#a8a8a8"/><circle cx="164.3" cy="383.9" r="1.92" fill="#9a9a9a"/><circle cx="42.8" cy="386.6" r="1.69" fill="#ececec"/><circle cx="17.6" cy="389.6" r="1.16" fill="#9a9a9a"/><circle cx="128.2" cy="386.5" r="1.94" fill="#a8a8a8"/><circle cx="118.2" cy="383.7" r="1.54" fill="#ececec"/><circle cx="60.4" cy="384.3" r="2.06" fill="#f2f2f2"/><circle cx="22.5" cy="385.9" r="2.19" fill="#ececec"/><circle cx="30.7" cy="383.6" r="1.58" fill="#f2f2f2"/><circle cx="125.1" cy="388.7" r="1.24" fill="#b5b5b5"/><circle cx="85.3" cy="385.1" r="1.82" fill="#9a9a9a"/><circle cx="100.2" cy="385.9" r="1.93" fill="#9a9a9a"/><circle cx="111.0" cy="388.5" r="1.41" fill="#b5b5b5"/><circle cx="13.5" cy="383.0" r="1.95" fill="#ececec"/><circle cx="130.0" cy="383.2" r="1.31" fill="#f2f2f2"/><circle cx="170.3" cy="386.9" r="1.52" fill="#f2f2f2"/><circle cx="173.7" cy="384.8" r="1.87" fill="#f2f2f2"/><circle cx="147.7" cy="389.0" r="2.10" fill="#a8a8a8"/><circle cx="19.6" cy="385.1" r="1.24" fill="#ececec"/><circle cx="116.9" cy="386.8" r="2.17" fill="#a8a8a8"/><circle cx="29.5" cy="383.2" r="1.24" fill="#b5b5b5"/><circle cx="160.9" cy="387.3" r="1.30" fill="#9a9a9a"/><circle cx="118.9" cy="385.3" r="1.02" fill="#9a9a9a"/><circle cx="128.1" cy="387.1" r="1.10" fill="#a8a8a8"/><circle cx="32.7" cy="385.9" r="1.88" fill="#9a9a9a"/><circle cx="111.3" cy="385.3" r="1.92" fill="#b5b5b5"/><circle cx="119.4" cy="385.0" r="1.76" fill="#b5b5b5"/><circle cx="106.3" cy="387.2" r="2.02" fill="#ececec"/><circle cx="175.6" cy="384.6" r="2.18" fill="#f2f2f2"/><circle cx="122.4" cy="384.0" r="1.00" fill="#b5b5b5"/><circle cx="85.4" cy="387.5" r="2.07" fill="#b5b5b5"/><circle cx="151.4" cy="389.4" r="2.05" fill="#b5b5b5"/><circle cx="176.2" cy="388.2" r="1.18" fill="#f2f2f2"/><circle cx="106.3" cy="386.1" r="1.82" fill="#b5b5b5"/><circle cx="166.0" cy="385.0" r="1.55" fill="#b5b5b5"/><circle cx="37.3" cy="389.4" r="2.08" fill="#a8a8a8"/><circle cx="45.3" cy="385.3" r="2.10" fill="#f2f2f2"/><circle cx="158.5" cy="383.8" r="1.56" fill="#a8a8a8"/><circle cx="149.8" cy="388.9" r="2.13" fill="#a8a8a8"/><circle cx="147.0" cy="386.0" r="1.45" fill="#f2f2f2"/><circle cx="80.4" cy="389.7" r="1.56" fill="#ececec"/><circle cx="86.4" cy="389.8" r="1.31" fill="#f2f2f2"/><circle cx="21.1" cy="389.5" r="1.63" fill="#b5b5b5"/><circle cx="84.1" cy="389.2" r="2.09" fill="#9a9a9a"/><circle cx="29.4" cy="389.2" r="2.15" fill="#b5b5b5"/><circle cx="100.9" cy="388.1" r="1.02" fill="#f2f2f2"/><circle cx="21.7" cy="383.9" r="1.07" fill="#9a9a9a"/></g>
</g>
<rect x="59.3" y="257.20" width="2.6" height="3.1" fill="#ead6d6" stroke="#c23b3d" stroke-width="0.75"/>
<rect x="59.3" y="260.55" width="2.6" height="3.1" fill="#ead6d6" stroke="#c23b3d" stroke-width="0.75"/>
<rect x="59.3" y="263.90" width="2.6" height="3.1" fill="#ead6d6" stroke="#c23b3d" stroke-width="0.75"/>
<rect x="59.3" y="267.25" width="2.6" height="3.1" fill="#ead6d6" stroke="#c23b3d" stroke-width="0.75"/>
<rect x="59.3" y="270.60" width="2.6" height="3.1" fill="#ead6d6" stroke="#c23b3d" stroke-width="0.75"/>
<rect x="59.3" y="273.95" width="2.6" height="3.1" fill="#ead6d6" stroke="#c23b3d" stroke-width="0.75"/>
<rect x="59.3" y="277.30" width="2.6" height="3.1" fill="#ead6d6" stroke="#c23b3d" stroke-width="0.75"/>
<rect x="59.3" y="280.65" width="2.6" height="3.1" fill="#ead6d6" stroke="#c23b3d" stroke-width="0.75"/>
<rect x="59.3" y="284.00" width="2.6" height="3.1" fill="#ead6d6" stroke="#c23b3d" stroke-width="0.75"/>
<rect x="59.3" y="287.35" width="2.6" height="3.1" fill="#ead6d6" stroke="#c23b3d" stroke-width="0.75"/>
<rect x="59.3" y="290.70" width="2.6" height="3.1" fill="#ead6d6" stroke="#c23b3d" stroke-width="0.75"/>
<rect x="59.3" y="294.05" width="2.6" height="3.1" fill="#ead6d6" stroke="#c23b3d" stroke-width="0.75"/>
<rect x="58.6" y="297.5" width="4" height="4.6" fill="#ead6d6" stroke="#c23b3d" stroke-width="0.8"/>
<rect x="58.6" y="302.3" width="4" height="4.9" fill="#ead6d6" stroke="#c23b3d" stroke-width="0.8"/>
<path d="M74.9,259 L74.9,284" stroke="#fff" stroke-width="3.8"/>
<circle cx="74.9" cy="259.3" r="2.9" fill="#fff"/>
<path d="M70.1,283 L79.6,283 L74.9,292.6 Z" fill="#fff"/>
<text x="12" y="235.1" style="font:bold 15px 'Liberation Sans',sans-serif;fill:#fff">BiVO<tspan style="font-size:8.5px" dy="4">4</tspan><tspan dy="-4">/PEI/TiO</tspan><tspan style="font-size:8.5px" dy="4">2</tspan></text>
<text x="54.4" y="251.3" style="font:bold 10px 'Liberation Sans',sans-serif;fill:#fff">Line scan</text>
<text x="18.6" y="376.6" style="font:8.8px 'Liberation Sans',sans-serif;fill:#2b2b2b">100</text><text x="37.6" y="376.6" style="font:7.1px 'Liberation Sans',sans-serif;fill:#2b2b2b">nm</text>
<rect x="19" y="378.7" width="42.6" height="1.6" fill="#333"/>
<text x="-0.5" y="211" style="font:bold 18px 'Liberation Sans',sans-serif;fill:#231815">b</text>
</svg>

<svg class="chart" width="685" height="393" viewBox="0 0 685 393">
<defs><clipPath id="cc"><rect x="214" y="22" width="213" height="340"/></clipPath>
<clipPath id="cd"><rect x="464.5" y="22" width="213" height="339.5"/></clipPath></defs>
<text x="198.5" y="13" class="pl">c</text>
<text x="448.2" y="12.7" class="pl">d</text>
<!-- panel c -->
<line x1="316.5" y1="22" x2="316.5" y2="324" stroke="#111" stroke-width="1" stroke-dasharray="2.8 1.8"/>
<line x1="345" y1="22" x2="345" y2="324" stroke="#3a3a3a" stroke-width="1" stroke-dasharray="2.8 1.8"/>
<g clip-path="url(#cc)"><polyline fill="none" stroke="#555555" stroke-width="1.0" stroke-linejoin="round" points="214.00,346.52 215.40,346.96 216.80,346.42 218.20,345.81 219.60,346.24 221.00,345.94 222.40,346.75 223.80,347.86 225.20,346.39 226.60,346.21 228.00,347.07 229.40,347.04 230.80,346.95 232.20,345.98 233.60,346.66 235.00,347.38 236.40,345.66 237.80,346.38 239.20,345.22 240.60,345.81 242.00,345.30 243.40,346.69 244.80,345.90 246.20,347.12 247.60,347.04 249.00,346.83 250.40,344.93 251.80,346.73 253.20,347.02 254.60,347.33 256.00,345.97 257.40,346.91 258.80,346.48 260.20,346.54 261.60,348.16 263.00,346.71 264.40,347.37 265.80,348.20 267.20,346.92 268.60,347.33 270.00,347.58 271.40,347.55 272.80,346.75 274.20,347.63 275.60,348.71 277.00,346.31 278.40,348.39 279.80,347.87 281.20,347.29 282.60,349.33 284.00,348.15 285.40,346.41 286.80,347.52 288.20,347.85 289.60,346.98 291.00,346.86 292.40,344.93 293.80,344.31 295.20,343.82 296.60,340.81 298.00,339.94 299.40,337.06 300.80,334.50 302.20,330.10 303.60,327.55 305.00,325.13 306.40,323.96 307.80,322.81 309.20,319.60 310.60,318.15 312.00,315.38 313.40,308.62 314.80,305.70 316.20,303.52 317.60,306.04 319.00,309.23 320.40,313.50 321.80,319.14 323.20,324.16 324.60,329.23 326.00,328.58 327.40,328.00 328.80,326.70 330.20,323.87 331.60,320.78 333.00,316.47 334.40,313.47 335.80,309.37 337.20,307.01 338.60,303.07 340.00,299.18 341.40,297.33 342.80,294.57 344.20,294.51 345.60,294.37 347.00,297.98 348.40,299.68 349.80,304.35 351.20,306.49 352.60,310.71 354.00,316.47 355.40,320.19 356.80,325.99 358.20,332.37 359.60,332.79 361.00,334.05 362.40,335.57 363.80,336.29 365.20,336.01 366.60,336.18 368.00,337.28 369.40,337.20 370.80,336.03 372.20,336.91 373.60,336.95 375.00,336.29 376.40,337.76 377.80,336.79 379.20,338.56 380.60,337.90 382.00,337.74 383.40,337.29 384.80,337.79 386.20,336.51 387.60,337.25 389.00,338.64 390.40,336.80 391.80,339.49 393.20,337.23 394.60,339.46 396.00,337.99 397.40,339.06 398.80,338.23 400.20,336.56 401.60,338.95 403.00,339.07 404.40,337.62 405.80,337.38 407.20,337.47 408.60,336.74 410.00,338.73 411.40,337.62 412.80,338.51 414.20,338.12 415.60,338.39 417.00,337.89 418.40,340.07 419.80,338.93 421.20,340.15 422.60,339.49 424.00,339.02 425.40,339.42 426.80,339.15"/>
<polyline fill="none" stroke="#e63a44" stroke-width="1.0" stroke-linejoin="round" points="214.00,323.63 215.40,323.49 216.80,323.10 218.20,322.46 219.60,323.38 221.00,324.34 222.40,323.34 223.80,323.60 225.20,323.81 226.60,324.24 228.00,322.69 229.40,324.12 230.80,323.68 232.20,325.19 233.60,323.78 235.00,325.14 236.40,326.06 237.80,324.65 239.20,324.40 240.60,325.22 242.00,325.06 243.40,324.56 244.80,325.85 246.20,327.24 247.60,325.06 249.00,325.04 250.40,324.41 251.80,325.69 253.20,324.27 254.60,324.27 256.00,326.10 257.40,324.51 258.80,326.09 260.20,326.64 261.60,325.61 263.00,325.90 264.40,326.92 265.80,325.17 267.20,324.83 268.60,324.13 270.00,325.32 271.40,326.92 272.80,326.39 274.20,324.80 275.60,324.58 277.00,324.95 278.40,325.66 279.80,325.38 281.20,325.82 282.60,325.64 284.00,325.05 285.40,325.31 286.80,325.73 288.20,325.86 289.60,326.05 291.00,326.31 292.40,323.94 293.80,321.74 295.20,318.24 296.60,317.62 298.00,312.85 299.40,310.32 300.80,308.91 302.20,305.52 303.60,301.43 305.00,296.10 306.40,291.13 307.80,284.53 309.20,280.64 310.60,277.49 312.00,271.69 313.40,268.01 314.80,266.02 316.20,265.90 317.60,266.61 319.00,268.93 320.40,274.46 321.80,278.84 323.20,286.16 324.60,290.73 326.00,293.92 327.40,293.36 328.80,293.16 330.20,290.27 331.60,286.60 333.00,282.63 334.40,276.91 335.80,271.73 337.20,268.54 338.60,262.83 340.00,258.72 341.40,255.80 342.80,250.55 344.20,249.89 345.60,251.23 347.00,257.96 348.40,266.91 349.80,276.82 351.20,282.73 352.60,288.28 354.00,294.39 355.40,300.28 356.80,301.84 358.20,301.09 359.60,304.94 361.00,305.49 362.40,307.38 363.80,306.77 365.20,307.45 366.60,306.98 368.00,310.04 369.40,308.10 370.80,309.57 372.20,307.64 373.60,308.42 375.00,307.25 376.40,308.76 377.80,310.14 379.20,308.69 380.60,311.30 382.00,310.79 383.40,309.86 384.80,310.45 386.20,310.59 387.60,310.93 389.00,310.65 390.40,310.39 391.80,310.62 393.20,309.50 394.60,308.95 396.00,309.74 397.40,310.41 398.80,308.32 400.20,309.55 401.60,309.01 403.00,308.95 404.40,310.57 405.80,309.63 407.20,311.72 408.60,310.00 410.00,311.20 411.40,310.60 412.80,310.27 414.20,311.56 415.60,310.98 417.00,311.66 418.40,311.39 419.80,310.66 421.20,311.66 422.60,311.86 424.00,312.89 425.40,311.43 426.80,312.30"/>
<polyline fill="none" stroke="#1b6abd" stroke-width="1.0" stroke-linejoin="round" points="214.00,302.71 215.40,303.35 216.80,304.09 218.20,301.38 219.60,303.55 221.00,304.08 222.40,304.23 223.80,305.26 225.20,304.79 226.60,304.39 228.00,304.32 229.40,304.95 230.80,303.73 232.20,304.36 233.60,305.37 235.00,306.30 236.40,304.29 237.80,304.36 239.20,304.34 240.60,305.47 242.00,304.32 243.40,305.71 244.80,303.91 246.20,304.55 247.60,304.52 249.00,305.53 250.40,305.73 251.80,303.62 253.20,304.27 254.60,305.26 256.00,304.22 257.40,303.42 258.80,305.63 260.20,305.37 261.60,305.48 263.00,304.83 264.40,306.25 265.80,305.26 267.20,306.52 268.60,305.06 270.00,305.09 271.40,305.86 272.80,305.04 274.20,306.18 275.60,305.79 277.00,304.65 278.40,305.54 279.80,305.15 281.20,306.07 282.60,304.54 284.00,304.82 285.40,306.23 286.80,307.06 288.20,306.84 289.60,304.99 291.00,304.35 292.40,304.41 293.80,301.90 295.20,300.04 296.60,299.65 298.00,297.06 299.40,292.02 300.80,286.41 302.20,281.38 303.60,277.46 305.00,270.87 306.40,266.48 307.80,262.40 309.20,258.44 310.60,253.94 312.00,251.15 313.40,246.82 314.80,244.09 316.20,241.92 317.60,244.93 319.00,248.11 320.40,253.84 321.80,261.27 323.20,267.77 324.60,273.10 326.00,272.38 327.40,271.99 328.80,270.31 330.20,269.53 331.60,264.37 333.00,259.16 334.40,254.97 335.80,251.19 337.20,244.29 338.60,239.72 340.00,236.79 341.40,232.77 342.80,230.75 344.20,228.48 345.60,230.84 347.00,235.99 348.40,241.11 349.80,248.05 351.20,253.02 352.60,262.59 354.00,268.51 355.40,273.92 356.80,278.33 358.20,281.31 359.60,282.78 361.00,285.99 362.40,286.01 363.80,287.50 365.20,288.43 366.60,289.25 368.00,287.78 369.40,290.66 370.80,289.59 372.20,289.84 373.60,290.19 375.00,288.55 376.40,287.11 377.80,287.95 379.20,288.07 380.60,289.10 382.00,290.04 383.40,288.41 384.80,290.54 386.20,288.97 387.60,290.50 389.00,289.91 390.40,289.67 391.80,289.80 393.20,289.21 394.60,289.03 396.00,287.87 397.40,289.26 398.80,290.77 400.20,290.67 401.60,289.88 403.00,289.22 404.40,287.86 405.80,289.79 407.20,288.83 408.60,289.10 410.00,289.30 411.40,289.81 412.80,289.72 414.20,290.43 415.60,289.73 417.00,290.60 418.40,293.15 419.80,291.23 421.20,291.50 422.60,292.30 424.00,292.71 425.40,291.27 426.80,292.28"/>
<polyline fill="none" stroke="#1f9b66" stroke-width="1.0" stroke-linejoin="round" points="214.00,276.57 215.40,275.30 216.80,277.82 218.20,277.89 219.60,277.28 221.00,277.31 222.40,278.10 223.80,276.78 225.20,276.73 226.60,277.37 228.00,278.61 229.40,276.76 230.80,278.66 232.20,277.40 233.60,277.11 235.00,279.21 236.40,278.16 237.80,277.08 239.20,277.84 240.60,279.08 242.00,279.27 243.40,278.08 244.80,279.03 246.20,279.63 247.60,278.34 249.00,279.23 250.40,279.28 251.80,279.02 253.20,279.02 254.60,279.46 256.00,279.47 257.40,278.76 258.80,278.61 260.20,280.15 261.60,279.33 263.00,279.62 264.40,279.70 265.80,279.16 267.20,280.53 268.60,277.95 270.00,279.47 271.40,278.61 272.80,280.44 274.20,280.38 275.60,277.33 277.00,278.28 278.40,279.64 279.80,279.92 281.20,279.78 282.60,279.13 284.00,279.54 285.40,279.58 286.80,278.88 288.20,279.73 289.60,276.40 291.00,277.44 292.40,273.97 293.80,273.00 295.20,268.43 296.60,264.18 298.00,261.22 299.40,256.06 300.80,252.03 302.20,247.31 303.60,244.45 305.00,240.80 306.40,237.91 307.80,233.94 309.20,231.79 310.60,228.02 312.00,225.22 313.40,222.94 314.80,220.35 316.20,217.64 317.60,218.74 319.00,222.04 320.40,227.27 321.80,232.38 323.20,239.62 324.60,242.92 326.00,246.36 327.40,245.69 328.80,245.14 330.20,242.46 331.60,238.21 333.00,236.11 334.40,229.99 335.80,226.17 337.20,220.32 338.60,213.93 340.00,209.47 341.40,206.65 342.80,203.63 344.20,202.01 345.60,201.89 347.00,204.39 348.40,210.98 349.80,216.40 351.20,226.66 352.60,232.22 354.00,237.96 355.40,243.98 356.80,249.08 358.20,251.96 359.60,255.20 361.00,257.04 362.40,257.10 363.80,258.71 365.20,261.59 366.60,259.88 368.00,261.39 369.40,260.23 370.80,261.91 372.20,261.58 373.60,262.11 375.00,263.01 376.40,264.34 377.80,263.20 379.20,263.46 380.60,263.03 382.00,264.64 383.40,264.28 384.80,265.28 386.20,264.48 387.60,265.94 389.00,262.45 390.40,263.82 391.80,264.53 393.20,263.18 394.60,262.28 396.00,262.17 397.40,260.88 398.80,261.92 400.20,263.64 401.60,262.53 403.00,260.60 404.40,260.91 405.80,261.60 407.20,263.19 408.60,262.04 410.00,262.54 411.40,263.96 412.80,263.87 414.20,262.90 415.60,262.30 417.00,262.06 418.40,263.04 419.80,261.96 421.20,264.47 422.60,263.30 424.00,264.44 425.40,265.97 426.80,265.66"/>
<polyline fill="none" stroke="#8c66b4" stroke-width="1.0" stroke-linejoin="round" points="214.00,252.23 215.40,253.00 216.80,251.51 218.20,251.34 219.60,251.75 221.00,252.59 222.40,252.94 223.80,253.21 225.20,253.14 226.60,253.26 228.00,252.90 229.40,252.70 230.80,250.81 232.20,252.06 233.60,252.25 235.00,251.79 236.40,253.16 237.80,252.18 239.20,251.76 240.60,253.91 242.00,252.95 243.40,252.28 244.80,252.53 246.20,252.74 247.60,251.88 249.00,249.33 250.40,250.68 251.80,251.06 253.20,250.86 254.60,251.88 256.00,253.07 257.40,251.73 258.80,251.14 260.20,254.02 261.60,251.80 263.00,251.12 264.40,252.04 265.80,252.09 267.20,251.29 268.60,252.37 270.00,251.38 271.40,250.96 272.80,251.69 274.20,252.19 275.60,251.17 277.00,252.36 278.40,252.03 279.80,254.28 281.20,251.42 282.60,253.14 284.00,252.09 285.40,252.17 286.80,253.05 288.20,253.11 289.60,253.13 291.00,252.24 292.40,251.35 293.80,251.29 295.20,251.63 296.60,250.07 298.00,248.19 299.40,244.16 300.80,240.95 302.20,237.15 303.60,231.67 305.00,225.59 306.40,219.09 307.80,212.12 309.20,209.48 310.60,202.93 312.00,201.04 313.40,197.05 314.80,195.26 316.20,193.00 317.60,192.77 319.00,196.37 320.40,201.79 321.80,207.65 323.20,212.95 324.60,218.01 326.00,222.40 327.40,219.49 328.80,219.72 330.20,216.40 331.60,213.46 333.00,209.62 334.40,204.12 335.80,199.94 337.20,192.78 338.60,190.22 340.00,184.32 341.40,181.62 342.80,178.60 344.20,174.59 345.60,176.08 347.00,178.98 348.40,183.08 349.80,189.00 351.20,198.02 352.60,204.84 354.00,212.32 355.40,215.83 356.80,217.28 358.20,220.68 359.60,226.19 361.00,233.06 362.40,236.32 363.80,235.81 365.20,236.90 366.60,236.55 368.00,235.42 369.40,237.56 370.80,235.56 372.20,236.50 373.60,237.09 375.00,237.66 376.40,237.27 377.80,237.31 379.20,236.49 380.60,236.11 382.00,237.71 383.40,237.40 384.80,237.37 386.20,237.70 387.60,238.69 389.00,237.52 390.40,238.08 391.80,238.04 393.20,239.42 394.60,239.34 396.00,240.57 397.40,237.19 398.80,237.60 400.20,238.52 401.60,237.07 403.00,236.54 404.40,237.68 405.80,235.97 407.20,235.16 408.60,234.95 410.00,236.48 411.40,236.60 412.80,235.19 414.20,236.50 415.60,238.81 417.00,239.99 418.40,239.77 419.80,241.27 421.20,241.31 422.60,239.27 424.00,240.42 425.40,241.07 426.80,239.85"/>
<polyline fill="none" stroke="#cd9b2a" stroke-width="1.0" stroke-linejoin="round" points="214.00,226.53 215.40,224.81 216.80,226.82 218.20,228.70 219.60,224.55 221.00,227.00 222.40,226.39 223.80,225.96 225.20,227.28 226.60,225.36 228.00,226.57 229.40,227.78 230.80,226.35 232.20,226.14 233.60,226.79 235.00,226.27 236.40,228.25 237.80,226.09 239.20,227.53 240.60,225.67 242.00,227.57 243.40,227.03 244.80,225.08 246.20,227.32 247.60,226.73 249.00,227.29 250.40,229.08 251.80,226.99 253.20,227.03 254.60,229.14 256.00,227.86 257.40,228.98 258.80,227.99 260.20,226.69 261.60,227.35 263.00,228.53 264.40,228.17 265.80,227.12 267.20,227.14 268.60,227.16 270.00,226.71 271.40,228.84 272.80,227.05 274.20,226.06 275.60,226.54 277.00,227.65 278.40,227.61 279.80,227.01 281.20,226.46 282.60,227.22 284.00,225.64 285.40,226.14 286.80,228.13 288.20,226.99 289.60,227.16 291.00,227.02 292.40,224.77 293.80,222.31 295.20,221.78 296.60,217.70 298.00,213.59 299.40,211.10 300.80,207.52 302.20,202.99 303.60,200.34 305.00,196.57 306.40,191.38 307.80,189.26 309.20,185.15 310.60,181.09 312.00,175.98 313.40,173.71 314.80,170.37 316.20,168.29 317.60,168.01 319.00,172.41 320.40,175.01 321.80,180.68 323.20,186.87 324.60,189.76 326.00,192.96 327.40,195.85 328.80,194.29 330.20,192.33 331.60,189.30 333.00,185.80 334.40,178.19 335.80,174.19 337.20,168.61 338.60,163.57 340.00,159.23 341.40,155.03 342.80,153.09 344.20,150.58 345.60,151.75 347.00,155.83 348.40,159.49 349.80,166.08 351.20,174.61 352.60,181.15 354.00,188.04 355.40,195.71 356.80,201.59 358.20,204.20 359.60,205.34 361.00,204.95 362.40,206.74 363.80,208.91 365.20,208.45 366.60,209.60 368.00,209.03 369.40,209.57 370.80,210.05 372.20,212.70 373.60,210.70 375.00,210.60 376.40,210.83 377.80,211.08 379.20,212.09 380.60,211.78 382.00,214.16 383.40,213.43 384.80,215.29 386.20,214.75 387.60,215.33 389.00,212.76 390.40,213.01 391.80,212.18 393.20,211.15 394.60,208.91 396.00,211.73 397.40,210.59 398.80,210.54 400.20,210.66 401.60,210.68 403.00,211.48 404.40,210.14 405.80,210.54 407.20,211.72 408.60,211.63 410.00,211.39 411.40,211.53 412.80,211.74 414.20,212.84 415.60,214.27 417.00,212.67 418.40,215.24 419.80,214.91 421.20,213.67 422.60,214.72 424.00,212.90 425.40,212.62 426.80,213.20"/>
<polyline fill="none" stroke="#1aacb5" stroke-width="1.0" stroke-linejoin="round" points="214.00,201.97 215.40,201.42 216.80,200.91 218.20,200.32 219.60,200.57 221.00,201.85 222.40,200.84 223.80,201.73 225.20,202.66 226.60,202.42 228.00,202.83 229.40,201.61 230.80,201.01 232.20,202.79 233.60,202.23 235.00,202.98 236.40,202.19 237.80,203.04 239.20,202.80 240.60,202.89 242.00,202.63 243.40,202.65 244.80,202.49 246.20,202.78 247.60,203.65 249.00,202.36 250.40,204.28 251.80,202.64 253.20,203.62 254.60,202.93 256.00,202.82 257.40,205.02 258.80,202.85 260.20,201.91 261.60,202.38 263.00,202.95 264.40,205.01 265.80,203.36 267.20,203.95 268.60,202.16 270.00,203.06 271.40,203.43 272.80,204.35 274.20,202.00 275.60,203.14 277.00,203.06 278.40,201.79 279.80,202.72 281.20,202.65 282.60,200.95 284.00,203.41 285.40,203.33 286.80,202.66 288.20,201.84 289.60,203.72 291.00,201.62 292.40,200.57 293.80,198.84 295.20,194.80 296.60,193.08 298.00,189.15 299.40,186.13 300.80,182.54 302.20,179.26 303.60,176.56 305.00,172.02 306.40,168.18 307.80,164.24 309.20,160.61 310.60,155.58 312.00,152.01 313.40,148.30 314.80,144.02 316.20,142.49 317.60,142.81 319.00,148.45 320.40,152.62 321.80,157.44 323.20,162.36 324.60,168.78 326.00,169.75 327.40,169.48 328.80,168.64 330.20,165.98 331.60,163.46 333.00,158.14 334.40,155.07 335.80,147.34 337.20,143.77 338.60,137.75 340.00,135.81 341.40,130.10 342.80,127.85 344.20,127.03 345.60,127.92 347.00,131.13 348.40,137.69 349.80,142.58 351.20,150.74 352.60,157.70 354.00,164.26 355.40,170.15 356.80,175.47 358.20,178.60 359.60,181.02 361.00,182.77 362.40,182.15 363.80,185.70 365.20,186.26 366.60,187.28 368.00,185.96 369.40,186.46 370.80,185.37 372.20,186.84 373.60,186.42 375.00,186.62 376.40,187.21 377.80,187.22 379.20,186.37 380.60,188.18 382.00,187.84 383.40,187.37 384.80,188.29 386.20,188.55 387.60,186.38 389.00,186.77 390.40,188.46 391.80,188.13 393.20,185.95 394.60,185.52 396.00,185.82 397.40,185.69 398.80,184.69 400.20,186.07 401.60,184.66 403.00,184.98 404.40,186.89 405.80,186.10 407.20,187.11 408.60,187.93 410.00,188.36 411.40,187.44 412.80,187.94 414.20,187.75 415.60,190.25 417.00,189.51 418.40,188.18 419.80,188.83 421.20,189.50 422.60,189.26 424.00,190.37 425.40,189.84 426.80,188.01"/>
<polyline fill="none" stroke="#835257" stroke-width="1.0" stroke-linejoin="round" points="214.00,176.26 215.40,176.01 216.80,174.57 218.20,174.93 219.60,175.15 221.00,175.44 222.40,176.57 223.80,174.32 225.20,175.77 226.60,176.00 228.00,175.90 229.40,175.87 230.80,176.32 232.20,175.50 233.60,175.73 235.00,175.56 236.40,176.82 237.80,173.71 239.20,176.38 240.60,175.06 242.00,175.11 243.40,174.85 244.80,174.04 246.20,175.41 247.60,175.26 249.00,176.16 250.40,174.57 251.80,177.07 253.20,176.12 254.60,175.68 256.00,175.40 257.40,175.48 258.80,175.32 260.20,175.63 261.60,176.03 263.00,175.95 264.40,174.90 265.80,175.85 267.20,175.48 268.60,176.44 270.00,177.87 271.40,176.75 272.80,176.26 274.20,175.26 275.60,175.33 277.00,175.11 278.40,177.05 279.80,175.51 281.20,176.14 282.60,175.55 284.00,176.17 285.40,176.93 286.80,174.97 288.20,175.18 289.60,174.66 291.00,176.18 292.40,174.17 293.80,173.20 295.20,171.49 296.60,169.52 298.00,168.91 299.40,167.97 300.80,162.17 302.20,161.03 303.60,156.02 305.00,148.29 306.40,142.04 307.80,136.83 309.20,132.28 310.60,130.88 312.00,124.38 313.40,122.88 314.80,119.21 316.20,116.51 317.60,118.04 319.00,122.05 320.40,126.31 321.80,132.26 323.20,137.97 324.60,140.41 326.00,146.16 327.40,147.22 328.80,144.45 330.20,141.72 331.60,135.91 333.00,132.66 334.40,127.09 335.80,122.07 337.20,118.25 338.60,111.77 340.00,107.83 341.40,102.56 342.80,101.02 344.20,99.73 345.60,99.18 347.00,103.29 348.40,112.47 349.80,117.65 351.20,125.30 352.60,131.14 354.00,137.68 355.40,143.01 356.80,146.27 358.20,150.02 359.60,153.51 361.00,156.28 362.40,156.04 363.80,159.05 365.20,159.80 366.60,159.30 368.00,160.22 369.40,160.44 370.80,161.23 372.20,159.16 373.60,161.27 375.00,160.04 376.40,159.85 377.80,160.80 379.20,160.87 380.60,160.33 382.00,160.03 383.40,160.87 384.80,162.74 386.20,163.25 387.60,162.16 389.00,162.87 390.40,161.34 391.80,161.24 393.20,161.28 394.60,159.74 396.00,159.35 397.40,160.19 398.80,159.46 400.20,158.81 401.60,160.00 403.00,159.72 404.40,161.04 405.80,160.31 407.20,160.27 408.60,160.91 410.00,160.95 411.40,160.94 412.80,161.41 414.20,162.61 415.60,162.63 417.00,163.42 418.40,161.12 419.80,162.23 421.20,162.04 422.60,162.50 424.00,161.98 425.40,162.04 426.80,163.20"/>
<polyline fill="none" stroke="#7b9434" stroke-width="1.0" stroke-linejoin="round" points="214.00,149.23 215.40,148.10 216.80,149.84 218.20,149.97 219.60,148.72 221.00,150.78 222.40,151.06 223.80,150.54 225.20,151.94 226.60,152.18 228.00,149.56 229.40,151.65 230.80,151.07 232.20,150.88 233.60,151.35 235.00,150.06 236.40,150.13 237.80,150.00 239.20,149.87 240.60,150.58 242.00,149.50 243.40,149.92 244.80,151.55 246.20,150.88 247.60,151.14 249.00,149.30 250.40,150.27 251.80,150.84 253.20,151.42 254.60,150.78 256.00,152.14 257.40,151.13 258.80,151.17 260.20,151.60 261.60,152.21 263.00,151.24 264.40,152.45 265.80,152.01 267.20,151.88 268.60,151.83 270.00,152.22 271.40,152.66 272.80,152.48 274.20,152.12 275.60,152.53 277.00,151.85 278.40,152.65 279.80,151.47 281.20,149.76 282.60,152.83 284.00,151.97 285.40,150.78 286.80,151.57 288.20,150.98 289.60,153.33 291.00,151.25 292.40,148.73 293.80,149.43 295.20,147.12 296.60,147.43 298.00,143.21 299.40,140.32 300.80,140.11 302.20,136.15 303.60,131.92 305.00,125.33 306.40,122.00 307.80,118.07 309.20,110.06 310.60,107.24 312.00,101.17 313.40,100.00 314.80,95.28 316.20,92.79 317.60,94.77 319.00,97.55 320.40,101.43 321.80,108.23 323.20,112.81 324.60,116.33 326.00,122.69 327.40,121.28 328.80,119.12 330.20,116.16 331.60,109.66 333.00,104.70 334.40,100.90 335.80,96.93 337.20,93.09 338.60,89.30 340.00,83.81 341.40,80.84 342.80,77.64 344.20,74.00 345.60,74.49 347.00,75.64 348.40,81.42 349.80,87.99 351.20,97.27 352.60,105.86 354.00,115.70 355.40,120.27 356.80,125.04 358.20,126.93 359.60,128.35 361.00,131.17 362.40,131.75 363.80,131.57 365.20,133.70 366.60,133.22 368.00,133.96 369.40,135.21 370.80,135.06 372.20,135.50 373.60,135.71 375.00,137.31 376.40,136.97 377.80,135.65 379.20,136.96 380.60,135.70 382.00,136.19 383.40,137.08 384.80,136.87 386.20,139.17 387.60,137.62 389.00,136.68 390.40,138.63 391.80,136.92 393.20,136.57 394.60,133.93 396.00,136.84 397.40,136.40 398.80,135.88 400.20,135.83 401.60,136.13 403.00,134.39 404.40,135.26 405.80,133.81 407.20,133.97 408.60,135.14 410.00,134.69 411.40,133.45 412.80,135.07 414.20,135.04 415.60,135.02 417.00,136.38 418.40,135.95 419.80,135.24 421.20,135.85 422.60,138.70 424.00,136.26 425.40,138.02 426.80,138.58"/>
<polyline fill="none" stroke="#f06e2e" stroke-width="1.0" stroke-linejoin="round" points="214.00,100.40 215.40,102.12 216.80,101.99 218.20,102.28 219.60,102.79 221.00,101.96 222.40,102.29 223.80,103.35 225.20,103.60 226.60,103.33 228.00,104.26 229.40,103.85 230.80,103.44 232.20,104.55 233.60,106.25 235.00,104.20 236.40,105.74 237.80,106.14 239.20,106.33 240.60,104.72 242.00,107.24 243.40,105.73 244.80,105.37 246.20,105.55 247.60,106.36 249.00,106.20 250.40,106.09 251.80,107.20 253.20,105.25 254.60,105.02 256.00,106.62 257.40,106.56 258.80,107.00 260.20,105.14 261.60,106.82 263.00,106.18 264.40,107.17 265.80,104.77 267.20,105.76 268.60,105.26 270.00,104.09 271.40,104.78 272.80,106.36 274.20,105.00 275.60,104.61 277.00,106.09 278.40,105.89 279.80,105.95 281.20,104.44 282.60,105.02 284.00,105.96 285.40,104.45 286.80,104.29 288.20,105.66 289.60,106.11 291.00,103.83 292.40,102.32 293.80,102.64 295.20,102.54 296.60,102.37 298.00,102.02 299.40,100.08 300.80,97.68 302.20,95.36 303.60,91.32 305.00,89.70 306.40,87.91 307.80,89.71 309.20,87.11 310.60,84.17 312.00,81.91 313.40,80.32 314.80,77.73 316.20,77.44 317.60,78.05 319.00,81.68 320.40,82.66 321.80,84.35 323.20,86.24 324.60,88.26 326.00,90.32 327.40,90.36 328.80,89.90 330.20,86.49 331.60,86.21 333.00,83.88 334.40,82.43 335.80,78.77 337.20,77.04 338.60,76.64 340.00,75.37 341.40,72.64 342.80,71.34 344.20,69.46 345.60,69.41 347.00,70.24 348.40,73.96 349.80,76.11 351.20,78.42 352.60,81.78 354.00,85.93 355.40,88.80 356.80,90.51 358.20,95.34 359.60,95.64 361.00,95.79 362.40,97.42 363.80,97.04 365.20,96.17 366.60,96.83 368.00,95.45 369.40,95.89 370.80,94.74 372.20,97.81 373.60,95.73 375.00,98.49 376.40,97.76 377.80,98.01 379.20,98.98 380.60,99.64 382.00,99.82 383.40,100.60 384.80,99.54 386.20,99.84 387.60,98.26 389.00,99.33 390.40,98.73 391.80,98.04 393.20,97.99 394.60,97.96 396.00,98.05 397.40,98.15 398.80,97.15 400.20,97.08 401.60,98.33 403.00,96.30 404.40,97.53 405.80,99.59 407.20,96.31 408.60,98.23 410.00,99.58 411.40,97.83 412.80,101.32 414.20,97.02 415.60,100.87 417.00,100.70 418.40,100.28 419.80,99.33 421.20,99.72 422.60,98.63 424.00,100.06 425.40,98.48 426.80,99.19"/>
<polyline fill="none" stroke="#3f7fc0" stroke-width="1.0" stroke-linejoin="round" points="214.00,81.71 215.40,84.84 216.80,82.76 218.20,84.84 219.60,83.57 221.00,83.03 222.40,83.36 223.80,83.55 225.20,83.85 226.60,83.11 228.00,82.95 229.40,83.07 230.80,84.13 232.20,83.90 233.60,82.45 235.00,82.69 236.40,83.44 237.80,82.89 239.20,83.25 240.60,82.86 242.00,83.51 243.40,84.12 244.80,84.46 246.20,83.64 247.60,85.55 249.00,83.69 250.40,86.52 251.80,84.66 253.20,84.13 254.60,83.34 256.00,81.42 257.40,83.64 258.80,83.97 260.20,85.61 261.60,83.10 263.00,85.85 264.40,84.09 265.80,84.91 267.20,82.25 268.60,84.67 270.00,84.36 271.40,85.38 272.80,84.68 274.20,83.43 275.60,85.11 277.00,84.80 278.40,84.75 279.80,84.94 281.20,84.93 282.60,84.16 284.00,82.90 285.40,82.89 286.80,85.43 288.20,85.17 289.60,84.66 291.00,83.96 292.40,83.99 293.80,83.62 295.20,82.65 296.60,81.88 298.00,83.40 299.40,80.72 300.80,78.71 302.20,76.83 303.60,76.05 305.00,76.23 306.40,75.27 307.80,73.59 309.20,72.78 310.60,71.44 312.00,68.70 313.40,68.72 314.80,66.02 316.20,66.85 317.60,64.94 319.00,68.45 320.40,71.51 321.80,72.32 323.20,72.69 324.60,73.88 326.00,74.53 327.40,73.92 328.80,72.72 330.20,72.85 331.60,71.75 333.00,69.81 334.40,67.88 335.80,66.37 337.20,66.04 338.60,65.25 340.00,63.66 341.40,63.01 342.80,61.36 344.20,59.65 345.60,60.06 347.00,63.05 348.40,64.61 349.80,67.51 351.20,68.37 352.60,71.54 354.00,74.18 355.40,75.60 356.80,75.73 358.20,77.13 359.60,78.05 361.00,77.82 362.40,79.56 363.80,80.44 365.20,79.65 366.60,82.05 368.00,80.39 369.40,80.46 370.80,80.39 372.20,79.92 373.60,80.77 375.00,80.44 376.40,81.78 377.80,80.68 379.20,80.65 380.60,80.05 382.00,78.98 383.40,80.57 384.80,80.25 386.20,82.12 387.60,81.59 389.00,83.25 390.40,82.54 391.80,82.77 393.20,82.00 394.60,82.03 396.00,82.20 397.40,82.21 398.80,80.74 400.20,81.67 401.60,83.76 403.00,81.51 404.40,81.26 405.80,81.19 407.20,80.68 408.60,82.80 410.00,82.02 411.40,82.24 412.80,83.56 414.20,84.00 415.60,81.30 417.00,83.00 418.40,82.60 419.80,82.29 421.20,82.54 422.60,82.32 424.00,84.06 425.40,83.67 426.80,83.87"/></g>
<rect x="214" y="21.5" width="213.5" height="340.7" fill="none" stroke="#111" stroke-width="1"/>
<line x1="227.34" y1="362.2" x2="227.34" y2="360.59999999999997" stroke="#222" stroke-width="0.9"/>
<line x1="240.69" y1="362.2" x2="240.69" y2="359.2" stroke="#222" stroke-width="0.9"/>
<line x1="254.03" y1="362.2" x2="254.03" y2="360.59999999999997" stroke="#222" stroke-width="0.9"/>
<line x1="267.38" y1="362.2" x2="267.38" y2="359.2" stroke="#222" stroke-width="0.9"/>
<line x1="280.72" y1="362.2" x2="280.72" y2="360.59999999999997" stroke="#222" stroke-width="0.9"/>
<line x1="294.06" y1="362.2" x2="294.06" y2="359.2" stroke="#222" stroke-width="0.9"/>
<line x1="307.41" y1="362.2" x2="307.41" y2="360.59999999999997" stroke="#222" stroke-width="0.9"/>
<line x1="320.75" y1="362.2" x2="320.75" y2="359.2" stroke="#222" stroke-width="0.9"/>
<line x1="334.09" y1="362.2" x2="334.09" y2="360.59999999999997" stroke="#222" stroke-width="0.9"/>
<line x1="347.44" y1="362.2" x2="347.44" y2="359.2" stroke="#222" stroke-width="0.9"/>
<line x1="360.78" y1="362.2" x2="360.78" y2="360.59999999999997" stroke="#222" stroke-width="0.9"/>
<line x1="374.12" y1="362.2" x2="374.12" y2="359.2" stroke="#222" stroke-width="0.9"/>
<line x1="387.47" y1="362.2" x2="387.47" y2="360.59999999999997" stroke="#222" stroke-width="0.9"/>
<line x1="400.81" y1="362.2" x2="400.81" y2="359.2" stroke="#222" stroke-width="0.9"/>
<line x1="414.16" y1="362.2" x2="414.16" y2="360.59999999999997" stroke="#222" stroke-width="0.9"/>
<text x="214.00" y="372.8" text-anchor="middle" class="tk">440</text>
<text x="240.69" y="372.8" text-anchor="middle" class="tk">445</text>
<text x="267.38" y="372.8" text-anchor="middle" class="tk">450</text>
<text x="294.06" y="372.8" text-anchor="middle" class="tk">455</text>
<text x="320.75" y="372.8" text-anchor="middle" class="tk">460</text>
<text x="347.44" y="372.8" text-anchor="middle" class="tk">465</text>
<text x="374.12" y="372.8" text-anchor="middle" class="tk">470</text>
<text x="400.81" y="372.8" text-anchor="middle" class="tk">475</text>
<text x="427.50" y="372.8" text-anchor="middle" class="tk">480</text>
<text x="221.5" y="37.8" class="ttl" fill="#e5323c">BiVO<tspan class="sub" dy="3.3">4</tspan><tspan dy="-3.3">/TiO</tspan><tspan class="sub" dy="3.3">2</tspan></text>
<text x="221.5" y="55" class="ttl2">Ti L edge</text>
<text x="229.6" y="75.9" class="lb">100 nm</text>
<text x="230.5" y="96.8" class="lb">90 nm</text>
<text x="230.5" y="145.6" class="lb">80 nm</text>
<text x="230.5" y="170.9" class="lb">70 nm</text>
<text x="230.5" y="197.3" class="lb">60 nm</text>
<text x="230.5" y="222.7" class="lb">50 nm</text>
<text x="230.5" y="247" class="lb">40 nm</text>
<text x="230.5" y="271.5" class="lb">30 nm</text>
<text x="230.5" y="298.6" class="lb">20 nm</text>
<text x="230.5" y="319" class="lb">10 nm</text>
<text x="230.5" y="340.2" class="lb">0 nm</text>
<text x="308" y="339" class="lb">2p<tspan class="sub2" dy="2.7">3/2</tspan></text>
<text x="338.2" y="339" class="lb">2p<tspan class="sub2" dy="2.7">1/2</tspan></text>
<text x="302.4" y="351.5" class="lb">(459.2)</text>
<text x="332.2" y="351.5" class="lb">(464.5)</text>
<text x="321.3" y="389.6" text-anchor="middle" class="ax">Energy loss (eV)</text>
<text transform="translate(206.7,245) rotate(-90)" class="ax" style="stroke:#111;stroke-width:0.6px">Intensity (counts)</text>
<!-- panel d -->
<line x1="562.6" y1="22" x2="562.6" y2="324" stroke="#111" stroke-width="1" stroke-dasharray="2.8 1.8"/>
<line x1="591" y1="22" x2="591" y2="324" stroke="#3a3a3a" stroke-width="1" stroke-dasharray="2.8 1.8"/>
<g clip-path="url(#cd)"><polyline fill="none" stroke="#555555" stroke-width="1.0" stroke-linejoin="round" points="464.00,348.70 465.40,348.22 466.80,348.73 468.20,347.89 469.60,349.98 471.00,350.47 472.40,348.45 473.80,348.96 475.20,348.37 476.60,349.63 478.00,349.07 479.40,348.82 480.80,348.77 482.20,348.97 483.60,347.80 485.00,349.15 486.40,348.16 487.80,349.25 489.20,349.10 490.60,349.90 492.00,348.93 493.40,349.66 494.80,347.90 496.20,349.30 497.60,348.62 499.00,348.95 500.40,348.90 501.80,349.56 503.20,347.06 504.60,349.03 506.00,347.61 507.40,350.03 508.80,347.29 510.20,348.12 511.60,347.48 513.00,350.22 514.40,347.77 515.80,349.01 517.20,348.49 518.60,347.55 520.00,348.88 521.40,349.76 522.80,348.88 524.20,349.88 525.60,349.05 527.00,349.43 528.40,349.05 529.80,349.72 531.20,350.84 532.60,349.32 534.00,348.90 535.40,347.98 536.80,347.44 538.20,348.63 539.60,345.76 541.00,344.97 542.40,344.33 543.80,342.34 545.20,342.55 546.60,335.85 548.00,334.46 549.40,331.08 550.80,325.38 552.20,321.20 553.60,320.62 555.00,321.44 556.40,318.65 557.80,315.29 559.20,313.55 560.60,309.93 562.00,305.83 563.40,305.03 564.80,313.52 566.20,318.37 567.60,323.30 569.00,325.50 570.40,327.73 571.80,328.85 573.20,330.17 574.60,329.13 576.00,324.93 577.40,322.79 578.80,319.84 580.20,313.58 581.60,309.41 583.00,307.61 584.40,304.76 585.80,302.52 587.20,299.76 588.60,297.67 590.00,295.87 591.40,295.63 592.80,294.25 594.20,296.02 595.60,300.53 597.00,307.00 598.40,312.97 599.80,319.39 601.20,323.28 602.60,326.51 604.00,331.35 605.40,333.58 606.80,336.58 608.20,337.52 609.60,337.05 611.00,336.89 612.40,338.08 613.80,337.81 615.20,337.25 616.60,336.20 618.00,335.57 619.40,337.41 620.80,337.68 622.20,338.00 623.60,336.46 625.00,338.62 626.40,337.50 627.80,338.68 629.20,339.03 630.60,338.41 632.00,338.68 633.40,337.51 634.80,338.11 636.20,337.38 637.60,339.04 639.00,338.61 640.40,339.02 641.80,338.13 643.20,337.02 644.60,337.80 646.00,337.25 647.40,338.31 648.80,337.88 650.20,336.95 651.60,337.69 653.00,337.97 654.40,337.81 655.80,338.84 657.20,339.81 658.60,338.46 660.00,338.87 661.40,337.97 662.80,339.99 664.20,340.21 665.60,338.54 667.00,340.46 668.40,340.86 669.80,339.73 671.20,340.07 672.60,339.71 674.00,341.03 675.40,339.12 676.80,339.99"/>
<polyline fill="none" stroke="#e63a44" stroke-width="1.0" stroke-linejoin="round" points="464.00,325.26 465.40,324.34 466.80,323.55 468.20,323.53 469.60,323.75 471.00,323.31 472.40,323.65 473.80,321.81 475.20,323.94 476.60,323.71 478.00,326.10 479.40,324.79 480.80,323.65 482.20,324.60 483.60,323.00 485.00,323.52 486.40,322.43 487.80,325.47 489.20,324.69 490.60,323.16 492.00,323.81 493.40,324.37 494.80,323.82 496.20,323.55 497.60,322.43 499.00,322.75 500.40,323.29 501.80,324.09 503.20,322.63 504.60,322.61 506.00,324.66 507.40,323.14 508.80,325.05 510.20,324.48 511.60,324.95 513.00,325.57 514.40,324.57 515.80,324.52 517.20,323.01 518.60,323.22 520.00,324.21 521.40,325.02 522.80,325.04 524.20,325.86 525.60,324.43 527.00,324.37 528.40,325.04 529.80,324.17 531.20,324.05 532.60,322.98 534.00,324.45 535.40,322.09 536.80,322.72 538.20,320.38 539.60,322.04 541.00,319.37 542.40,319.56 543.80,315.52 545.20,314.18 546.60,311.72 548.00,305.48 549.40,302.25 550.80,298.65 552.20,294.77 553.60,294.78 555.00,292.50 556.40,288.43 557.80,286.55 559.20,282.11 560.60,279.02 562.00,278.15 563.40,278.39 564.80,285.98 566.20,288.72 567.60,294.46 569.00,297.56 570.40,297.41 571.80,298.64 573.20,300.26 574.60,297.36 576.00,295.52 577.40,292.90 578.80,289.01 580.20,286.88 581.60,284.62 583.00,286.33 584.40,284.66 585.80,283.32 587.20,277.64 588.60,269.72 590.00,267.68 591.40,266.97 592.80,269.56 594.20,273.04 595.60,279.90 597.00,285.47 598.40,290.41 599.80,294.59 601.20,300.70 602.60,304.77 604.00,307.06 605.40,307.62 606.80,309.71 608.20,309.21 609.60,307.17 611.00,309.78 612.40,311.09 613.80,312.92 615.20,312.07 616.60,312.35 618.00,311.66 619.40,312.88 620.80,312.18 622.20,312.13 623.60,311.73 625.00,312.82 626.40,311.71 627.80,310.74 629.20,312.62 630.60,311.67 632.00,312.55 633.40,312.25 634.80,312.96 636.20,312.77 637.60,311.41 639.00,311.86 640.40,310.83 641.80,312.97 643.20,311.95 644.60,312.78 646.00,311.31 647.40,309.76 648.80,312.92 650.20,311.94 651.60,312.12 653.00,312.34 654.40,313.36 655.80,313.52 657.20,311.84 658.60,314.40 660.00,313.37 661.40,313.87 662.80,315.88 664.20,315.36 665.60,314.21 667.00,312.82 668.40,314.47 669.80,314.72 671.20,314.29 672.60,313.36 674.00,313.58 675.40,313.08 676.80,314.34"/>
<polyline fill="none" stroke="#1b6abd" stroke-width="1.0" stroke-linejoin="round" points="464.00,299.90 465.40,299.82 466.80,300.13 468.20,300.03 469.60,299.05 471.00,299.28 472.40,301.41 473.80,298.47 475.20,299.12 476.60,300.41 478.00,299.43 479.40,298.83 480.80,298.43 482.20,299.95 483.60,300.50 485.00,300.83 486.40,299.61 487.80,300.37 489.20,298.73 490.60,299.65 492.00,299.08 493.40,299.52 494.80,299.73 496.20,299.90 497.60,298.09 499.00,300.15 500.40,298.63 501.80,298.07 503.20,298.92 504.60,297.66 506.00,298.99 507.40,299.29 508.80,299.22 510.20,299.65 511.60,298.91 513.00,299.33 514.40,298.15 515.80,299.25 517.20,298.54 518.60,299.09 520.00,299.63 521.40,299.57 522.80,298.31 524.20,298.42 525.60,299.45 527.00,300.20 528.40,300.15 529.80,300.45 531.20,300.67 532.60,299.79 534.00,299.09 535.40,297.61 536.80,297.20 538.20,296.58 539.60,296.26 541.00,294.98 542.40,292.89 543.80,290.07 545.20,287.70 546.60,282.96 548.00,277.84 549.40,272.63 550.80,268.40 552.20,264.62 553.60,263.22 555.00,260.85 556.40,258.40 557.80,256.40 559.20,257.20 560.60,253.55 562.00,253.59 563.40,254.71 564.80,257.79 566.20,264.41 567.60,269.96 569.00,273.16 570.40,275.84 571.80,277.25 573.20,275.85 574.60,274.06 576.00,269.86 577.40,266.05 578.80,262.81 580.20,260.75 581.60,258.21 583.00,256.85 584.40,252.80 585.80,253.14 587.20,250.18 588.60,245.36 590.00,241.50 591.40,241.09 592.80,245.01 594.20,248.14 595.60,253.78 597.00,257.64 598.40,264.06 599.80,269.35 601.20,270.70 602.60,277.02 604.00,279.67 605.40,280.79 606.80,282.74 608.20,284.09 609.60,285.54 611.00,283.97 612.40,286.61 613.80,287.91 615.20,287.05 616.60,287.21 618.00,286.92 619.40,285.77 620.80,287.05 622.20,287.20 623.60,287.28 625.00,288.68 626.40,287.10 627.80,286.79 629.20,287.88 630.60,285.63 632.00,285.99 633.40,286.82 634.80,286.68 636.20,288.22 637.60,287.59 639.00,289.60 640.40,289.61 641.80,288.88 643.20,287.67 644.60,288.55 646.00,288.57 647.40,286.73 648.80,287.64 650.20,287.94 651.60,287.47 653.00,288.49 654.40,288.50 655.80,287.26 657.20,288.45 658.60,287.95 660.00,289.52 661.40,288.63 662.80,290.39 664.20,290.07 665.60,290.69 667.00,289.84 668.40,288.52 669.80,291.21 671.20,289.64 672.60,290.96 674.00,290.15 675.40,290.28 676.80,291.29"/>
<polyline fill="none" stroke="#1f9b66" stroke-width="1.0" stroke-linejoin="round" points="464.00,275.93 465.40,274.62 466.80,275.17 468.20,274.73 469.60,274.85 471.00,276.46 472.40,275.35 473.80,276.04 475.20,274.77 476.60,275.74 478.00,274.48 479.40,275.37 480.80,275.26 482.20,275.99 483.60,275.48 485.00,274.96 486.40,275.81 487.80,275.21 489.20,275.48 490.60,275.41 492.00,274.68 493.40,274.42 494.80,274.95 496.20,274.66 497.60,275.62 499.00,276.19 500.40,275.89 501.80,274.89 503.20,274.03 504.60,275.24 506.00,275.25 507.40,276.27 508.80,274.75 510.20,274.75 511.60,275.32 513.00,274.48 514.40,274.60 515.80,276.18 517.20,275.87 518.60,275.07 520.00,274.77 521.40,273.82 522.80,275.18 524.20,274.91 525.60,274.97 527.00,274.55 528.40,274.89 529.80,274.79 531.20,275.17 532.60,275.90 534.00,274.81 535.40,272.90 536.80,273.36 538.20,272.74 539.60,272.85 541.00,273.59 542.40,272.12 543.80,269.35 545.20,268.00 546.60,263.89 548.00,259.15 549.40,254.92 550.80,251.87 552.20,250.89 553.60,245.39 555.00,244.41 556.40,241.25 557.80,236.17 559.20,232.95 560.60,230.16 562.00,229.51 563.40,230.72 564.80,234.72 566.20,241.06 567.60,244.98 569.00,247.47 570.40,250.61 571.80,251.68 573.20,251.42 574.60,247.74 576.00,245.83 577.40,241.72 578.80,237.68 580.20,237.79 581.60,233.56 583.00,231.75 584.40,231.21 585.80,227.09 587.20,225.08 588.60,221.60 590.00,220.42 591.40,221.10 592.80,223.68 594.20,228.15 595.60,232.44 597.00,236.97 598.40,240.05 599.80,242.83 601.20,248.15 602.60,250.68 604.00,253.64 605.40,257.44 606.80,258.22 608.20,258.87 609.60,260.44 611.00,261.52 612.40,260.62 613.80,262.33 615.20,261.95 616.60,263.60 618.00,263.12 619.40,264.86 620.80,264.15 622.20,262.78 623.60,263.37 625.00,262.21 626.40,263.29 627.80,263.51 629.20,263.01 630.60,261.28 632.00,262.90 633.40,264.03 634.80,264.23 636.20,265.37 637.60,263.65 639.00,265.44 640.40,264.56 641.80,265.46 643.20,265.41 644.60,265.32 646.00,263.85 647.40,264.39 648.80,262.85 650.20,262.46 651.60,263.99 653.00,263.28 654.40,261.80 655.80,262.26 657.20,262.84 658.60,264.32 660.00,263.80 661.40,263.87 662.80,262.12 664.20,263.97 665.60,265.15 667.00,265.18 668.40,265.46 669.80,264.97 671.20,266.57 672.60,266.55 674.00,265.24 675.40,264.48 676.80,267.12"/>
<polyline fill="none" stroke="#8c66b4" stroke-width="1.0" stroke-linejoin="round" points="464.00,251.04 465.40,251.30 466.80,251.05 468.20,251.99 469.60,249.41 471.00,250.30 472.40,249.71 473.80,252.35 475.20,250.78 476.60,250.89 478.00,250.45 479.40,252.42 480.80,251.36 482.20,251.78 483.60,250.00 485.00,252.82 486.40,252.23 487.80,252.29 489.20,252.79 490.60,251.45 492.00,251.36 493.40,252.18 494.80,252.18 496.20,251.45 497.60,251.62 499.00,251.10 500.40,252.16 501.80,252.37 503.20,251.60 504.60,253.20 506.00,250.37 507.40,251.10 508.80,253.07 510.20,251.12 511.60,250.22 513.00,252.89 514.40,252.30 515.80,250.93 517.20,252.71 518.60,251.08 520.00,250.88 521.40,251.83 522.80,251.66 524.20,251.19 525.60,251.57 527.00,250.89 528.40,251.84 529.80,251.54 531.20,252.15 532.60,251.36 534.00,250.59 535.40,250.29 536.80,250.95 538.20,252.56 539.60,251.80 541.00,249.95 542.40,250.26 543.80,246.71 545.20,246.30 546.60,241.92 548.00,238.89 549.40,234.63 550.80,230.19 552.20,227.09 553.60,222.72 555.00,220.48 556.40,218.14 557.80,217.29 559.20,211.10 560.60,208.30 562.00,205.78 563.40,208.13 564.80,209.25 566.20,214.14 567.60,218.85 569.00,221.31 570.40,227.26 571.80,228.89 573.20,226.56 574.60,224.27 576.00,220.01 577.40,215.93 578.80,214.02 580.20,210.98 581.60,208.15 583.00,205.03 584.40,201.19 585.80,199.26 587.20,195.28 588.60,194.75 590.00,194.98 591.40,195.19 592.80,197.52 594.20,203.23 595.60,209.84 597.00,215.67 598.40,218.33 599.80,223.69 601.20,227.61 602.60,231.74 604.00,232.38 605.40,235.44 606.80,235.77 608.20,239.09 609.60,238.32 611.00,238.49 612.40,238.98 613.80,240.48 615.20,240.21 616.60,238.80 618.00,239.59 619.40,238.27 620.80,238.86 622.20,238.60 623.60,238.62 625.00,239.26 626.40,239.35 627.80,240.72 629.20,241.18 630.60,240.83 632.00,240.19 633.40,241.59 634.80,239.07 636.20,238.97 637.60,240.86 639.00,240.44 640.40,240.49 641.80,239.25 643.20,238.13 644.60,238.79 646.00,239.88 647.40,238.61 648.80,238.81 650.20,238.53 651.60,238.87 653.00,241.13 654.40,240.86 655.80,239.50 657.20,239.72 658.60,240.34 660.00,241.52 661.40,240.20 662.80,241.16 664.20,239.75 665.60,240.43 667.00,242.00 668.40,242.64 669.80,240.99 671.20,241.45 672.60,242.93 674.00,242.06 675.40,242.01 676.80,242.96"/>
<polyline fill="none" stroke="#cd9b2a" stroke-width="1.0" stroke-linejoin="round" points="464.00,225.49 465.40,227.37 466.80,227.62 468.20,228.16 469.60,228.41 471.00,228.90 472.40,228.60 473.80,228.04 475.20,228.21 476.60,229.82 478.00,227.61 479.40,228.33 480.80,229.37 482.20,228.50 483.60,226.41 485.00,228.28 486.40,227.63 487.80,227.90 489.20,228.87 490.60,228.58 492.00,228.06 493.40,229.14 494.80,228.62 496.20,228.37 497.60,228.79 499.00,228.78 500.40,228.39 501.80,228.44 503.20,228.79 504.60,227.75 506.00,227.37 507.40,229.53 508.80,228.19 510.20,228.16 511.60,228.19 513.00,228.14 514.40,227.96 515.80,228.00 517.20,227.15 518.60,228.77 520.00,227.24 521.40,228.74 522.80,226.33 524.20,226.83 525.60,228.68 527.00,227.86 528.40,227.38 529.80,228.42 531.20,226.93 532.60,228.06 534.00,226.01 535.40,227.21 536.80,226.98 538.20,227.55 539.60,227.34 541.00,224.88 542.40,223.95 543.80,218.35 545.20,213.05 546.60,207.10 548.00,204.22 549.40,197.88 550.80,195.63 552.20,194.49 553.60,193.49 555.00,194.82 556.40,191.86 557.80,191.04 559.20,186.74 560.60,182.74 562.00,184.05 563.40,183.34 564.80,187.15 566.20,193.25 567.60,195.20 569.00,199.77 570.40,201.74 571.80,202.67 573.20,203.06 574.60,199.76 576.00,198.10 577.40,193.83 578.80,189.43 580.20,186.88 581.60,184.83 583.00,182.20 584.40,181.23 585.80,177.82 587.20,175.77 588.60,171.65 590.00,171.01 591.40,171.28 592.80,172.80 594.20,176.98 595.60,181.10 597.00,188.11 598.40,193.44 599.80,199.93 601.20,204.75 602.60,207.07 604.00,208.15 605.40,211.43 606.80,213.45 608.20,213.26 609.60,215.55 611.00,215.83 612.40,215.73 613.80,215.16 615.20,215.13 616.60,215.19 618.00,215.42 619.40,215.75 620.80,215.63 622.20,214.92 623.60,215.10 625.00,215.63 626.40,214.04 627.80,215.20 629.20,215.70 630.60,216.57 632.00,216.89 633.40,217.44 634.80,217.34 636.20,218.99 637.60,218.62 639.00,216.69 640.40,217.40 641.80,215.70 643.20,217.44 644.60,215.23 646.00,215.22 647.40,215.64 648.80,215.21 650.20,215.48 651.60,217.17 653.00,216.07 654.40,216.70 655.80,217.19 657.20,215.83 658.60,218.31 660.00,217.56 661.40,218.28 662.80,216.64 664.20,218.14 665.60,218.06 667.00,217.42 668.40,219.98 669.80,218.54 671.20,218.03 672.60,218.57 674.00,219.19 675.40,219.61 676.80,219.15"/>
<polyline fill="none" stroke="#1aacb5" stroke-width="1.0" stroke-linejoin="round" points="464.00,205.90 465.40,204.99 466.80,205.42 468.20,205.67 469.60,206.88 471.00,207.07 472.40,205.85 473.80,205.01 475.20,204.93 476.60,205.61 478.00,206.89 479.40,205.90 480.80,205.42 482.20,204.73 483.60,206.22 485.00,205.90 486.40,205.82 487.80,205.96 489.20,207.09 490.60,205.49 492.00,207.27 493.40,207.00 494.80,205.96 496.20,206.77 497.60,205.84 499.00,205.19 500.40,205.73 501.80,205.14 503.20,206.45 504.60,205.85 506.00,206.07 507.40,206.34 508.80,202.95 510.20,206.06 511.60,204.11 513.00,205.73 514.40,204.83 515.80,205.83 517.20,207.09 518.60,204.60 520.00,206.25 521.40,205.99 522.80,204.07 524.20,206.31 525.60,205.82 527.00,205.43 528.40,205.11 529.80,208.59 531.20,205.71 532.60,204.51 534.00,204.89 535.40,205.22 536.80,204.88 538.20,204.59 539.60,203.25 541.00,203.63 542.40,201.00 543.80,197.82 545.20,195.48 546.60,192.44 548.00,189.16 549.40,184.38 550.80,180.10 552.20,176.84 553.60,174.09 555.00,172.54 556.40,167.07 557.80,165.15 559.20,162.76 560.60,159.47 562.00,159.38 563.40,159.69 564.80,163.31 566.20,169.92 567.60,176.58 569.00,181.02 570.40,180.66 571.80,180.26 573.20,180.52 574.60,175.49 576.00,174.20 577.40,172.12 578.80,168.85 580.20,166.75 581.60,163.74 583.00,161.25 584.40,158.43 585.80,153.81 587.20,151.37 588.60,149.17 590.00,147.39 591.40,147.98 592.80,149.89 594.20,156.20 595.60,162.59 597.00,167.60 598.40,171.49 599.80,173.37 601.20,179.10 602.60,180.63 604.00,184.14 605.40,187.81 606.80,187.20 608.20,190.36 609.60,191.44 611.00,191.86 612.40,191.75 613.80,192.89 615.20,192.36 616.60,193.84 618.00,194.02 619.40,191.97 620.80,192.76 622.20,193.05 623.60,192.47 625.00,192.54 626.40,193.99 627.80,193.96 629.20,192.73 630.60,194.05 632.00,194.84 633.40,193.33 634.80,193.56 636.20,195.76 637.60,195.58 639.00,193.14 640.40,193.19 641.80,194.69 643.20,193.13 644.60,193.80 646.00,193.61 647.40,193.95 648.80,191.05 650.20,191.28 651.60,191.66 653.00,193.53 654.40,192.43 655.80,191.07 657.20,193.24 658.60,193.44 660.00,193.22 661.40,193.61 662.80,194.26 664.20,195.37 665.60,194.94 667.00,195.57 668.40,195.27 669.80,194.75 671.20,194.65 672.60,195.83 674.00,195.44 675.40,195.79 676.80,196.96"/>
<polyline fill="none" stroke="#835257" stroke-width="1.0" stroke-linejoin="round" points="464.00,183.29 465.40,182.71 466.80,182.80 468.20,185.59 469.60,182.69 471.00,182.15 472.40,183.35 473.80,182.75 475.20,182.68 476.60,182.83 478.00,183.53 479.40,183.19 480.80,181.81 482.20,182.74 483.60,183.20 485.00,182.33 486.40,183.79 487.80,183.29 489.20,181.62 490.60,182.63 492.00,183.94 493.40,183.57 494.80,182.33 496.20,182.91 497.60,181.62 499.00,180.72 500.40,182.37 501.80,182.20 503.20,182.26 504.60,181.65 506.00,181.95 507.40,181.12 508.80,182.11 510.20,182.31 511.60,181.98 513.00,182.80 514.40,180.57 515.80,181.79 517.20,183.93 518.60,184.14 520.00,182.96 521.40,182.68 522.80,181.83 524.20,183.03 525.60,183.29 527.00,181.55 528.40,183.13 529.80,182.91 531.20,182.83 532.60,181.47 534.00,182.84 535.40,181.05 536.80,183.63 538.20,182.59 539.60,181.24 541.00,183.14 542.40,181.98 543.80,178.80 545.20,179.13 546.60,172.65 548.00,168.60 549.40,164.32 550.80,157.52 552.20,157.29 553.60,153.44 555.00,150.67 556.40,147.25 557.80,145.53 559.20,141.36 560.60,139.20 562.00,138.19 563.40,138.14 564.80,143.96 566.20,146.12 567.60,150.39 569.00,154.61 570.40,158.51 571.80,161.19 573.20,160.42 574.60,157.35 576.00,154.28 577.40,151.32 578.80,148.42 580.20,143.62 581.60,137.98 583.00,133.15 584.40,134.31 585.80,131.20 587.20,128.82 588.60,127.41 590.00,125.99 591.40,125.98 592.80,129.74 594.20,134.36 595.60,138.45 597.00,143.07 598.40,149.47 599.80,154.83 601.20,157.34 602.60,160.68 604.00,161.26 605.40,164.53 606.80,165.82 608.20,165.95 609.60,166.23 611.00,168.61 612.40,167.80 613.80,169.43 615.20,168.78 616.60,169.95 618.00,169.44 619.40,168.67 620.80,170.24 622.20,170.54 623.60,171.83 625.00,171.45 626.40,171.54 627.80,172.86 629.20,173.30 630.60,173.00 632.00,173.57 633.40,173.21 634.80,173.75 636.20,173.65 637.60,172.84 639.00,172.17 640.40,172.01 641.80,173.53 643.20,171.17 644.60,170.68 646.00,170.31 647.40,170.00 648.80,170.03 650.20,168.85 651.60,168.19 653.00,170.34 654.40,169.01 655.80,170.97 657.20,171.24 658.60,172.63 660.00,173.25 661.40,172.37 662.80,171.86 664.20,171.57 665.60,172.12 667.00,172.99 668.40,171.24 669.80,173.22 671.20,173.10 672.60,173.85 674.00,172.99 675.40,173.10 676.80,172.21"/>
<polyline fill="none" stroke="#7b9434" stroke-width="1.0" stroke-linejoin="round" points="464.00,159.54 465.40,160.40 466.80,158.28 468.20,158.77 469.60,158.72 471.00,158.49 472.40,157.80 473.80,159.10 475.20,159.28 476.60,159.45 478.00,158.10 479.40,158.93 480.80,157.56 482.20,160.16 483.60,158.60 485.00,159.36 486.40,159.19 487.80,159.14 489.20,158.57 490.60,157.97 492.00,160.93 493.40,159.82 494.80,159.78 496.20,161.62 497.60,159.82 499.00,160.35 500.40,160.07 501.80,161.27 503.20,160.69 504.60,160.54 506.00,159.95 507.40,160.73 508.80,161.17 510.20,158.39 511.60,160.15 513.00,159.89 514.40,159.84 515.80,158.41 517.20,160.93 518.60,159.65 520.00,159.88 521.40,159.95 522.80,158.77 524.20,159.88 525.60,158.73 527.00,159.65 528.40,160.25 529.80,160.52 531.20,160.49 532.60,160.47 534.00,162.20 535.40,160.96 536.80,159.25 538.20,159.66 539.60,159.29 541.00,159.11 542.40,157.11 543.80,154.84 545.20,154.34 546.60,149.58 548.00,144.97 549.40,140.36 550.80,135.24 552.20,130.47 553.60,127.21 555.00,127.05 556.40,122.31 557.80,122.69 559.20,119.88 560.60,117.24 562.00,113.78 563.40,112.89 564.80,119.44 566.20,123.97 567.60,126.94 569.00,131.54 570.40,136.29 571.80,138.12 573.20,137.01 574.60,133.29 576.00,133.33 577.40,126.97 578.80,125.24 580.20,121.25 581.60,120.65 583.00,116.96 584.40,114.13 585.80,110.11 587.20,106.51 588.60,103.85 590.00,100.42 591.40,103.24 592.80,107.65 594.20,112.89 595.60,118.34 597.00,123.44 598.40,129.07 599.80,132.09 601.20,134.93 602.60,137.47 604.00,138.68 605.40,141.19 606.80,143.30 608.20,144.55 609.60,145.91 611.00,147.24 612.40,147.23 613.80,147.04 615.20,147.02 616.60,146.83 618.00,146.55 619.40,147.01 620.80,144.96 622.20,147.90 623.60,145.90 625.00,147.77 626.40,147.29 627.80,148.49 629.20,147.77 630.60,147.23 632.00,148.86 633.40,148.28 634.80,147.95 636.20,147.94 637.60,149.03 639.00,148.78 640.40,148.51 641.80,146.94 643.20,147.31 644.60,147.28 646.00,148.18 647.40,146.85 648.80,146.16 650.20,146.94 651.60,146.09 653.00,146.15 654.40,146.36 655.80,145.30 657.20,147.85 658.60,147.62 660.00,147.29 661.40,146.81 662.80,148.20 664.20,149.54 665.60,148.17 667.00,147.88 668.40,149.40 669.80,147.53 671.20,147.00 672.60,148.33 674.00,148.15 675.40,148.57 676.80,148.27"/>
<polyline fill="none" stroke="#f06e2e" stroke-width="1.0" stroke-linejoin="round" points="464.00,138.03 465.40,136.69 466.80,137.82 468.20,137.16 469.60,139.26 471.00,137.32 472.40,136.34 473.80,136.28 475.20,136.47 476.60,137.31 478.00,137.16 479.40,137.92 480.80,137.41 482.20,137.29 483.60,137.68 485.00,137.06 486.40,137.67 487.80,138.22 489.20,138.03 490.60,136.83 492.00,135.94 493.40,136.59 494.80,137.47 496.20,135.06 497.60,136.99 499.00,137.78 500.40,136.79 501.80,136.51 503.20,139.19 504.60,138.83 506.00,137.33 507.40,138.80 508.80,138.74 510.20,136.62 511.60,139.95 513.00,136.79 514.40,137.52 515.80,136.65 517.20,137.77 518.60,136.80 520.00,137.72 521.40,138.65 522.80,138.03 524.20,137.54 525.60,139.36 527.00,137.01 528.40,138.70 529.80,137.54 531.20,137.94 532.60,137.77 534.00,137.65 535.40,137.40 536.80,136.64 538.20,136.42 539.60,136.99 541.00,136.17 542.40,134.08 543.80,133.13 545.20,131.49 546.60,129.40 548.00,126.01 549.40,121.78 550.80,116.58 552.20,111.54 553.60,107.06 555.00,104.59 556.40,105.79 557.80,102.18 559.20,99.02 560.60,94.94 562.00,93.87 563.40,92.48 564.80,96.81 566.20,100.58 567.60,103.64 569.00,107.82 570.40,113.85 571.80,115.94 573.20,115.54 574.60,114.91 576.00,111.12 577.40,108.36 578.80,104.85 580.20,100.25 581.60,94.88 583.00,90.68 584.40,89.83 585.80,83.23 587.20,82.17 588.60,80.53 590.00,79.24 591.40,78.36 592.80,81.71 594.20,85.87 595.60,89.26 597.00,93.56 598.40,97.36 599.80,101.71 601.20,109.03 602.60,114.54 604.00,118.88 605.40,120.36 606.80,122.86 608.20,123.83 609.60,124.54 611.00,123.56 612.40,123.76 613.80,123.99 615.20,124.75 616.60,125.23 618.00,125.42 619.40,124.10 620.80,124.66 622.20,123.72 623.60,123.21 625.00,124.51 626.40,124.83 627.80,124.35 629.20,124.27 630.60,126.45 632.00,125.24 633.40,124.35 634.80,127.46 636.20,125.84 637.60,125.41 639.00,126.10 640.40,124.76 641.80,126.73 643.20,123.84 644.60,123.84 646.00,124.65 647.40,123.98 648.80,125.59 650.20,123.01 651.60,123.99 653.00,125.01 654.40,125.52 655.80,126.11 657.20,125.83 658.60,127.57 660.00,125.30 661.40,126.01 662.80,126.85 664.20,125.94 665.60,126.21 667.00,126.01 668.40,126.00 669.80,125.73 671.20,126.53 672.60,125.92 674.00,127.76 675.40,126.25 676.80,129.49"/>
<polyline fill="none" stroke="#3f7fc0" stroke-width="1.0" stroke-linejoin="round" points="464.00,84.50 465.40,84.27 466.80,85.50 468.20,84.95 469.60,84.72 471.00,86.73 472.40,86.24 473.80,87.26 475.20,86.69 476.60,86.36 478.00,85.92 479.40,84.90 480.80,86.78 482.20,86.50 483.60,86.98 485.00,86.41 486.40,85.90 487.80,85.74 489.20,87.15 490.60,87.52 492.00,86.34 493.40,86.89 494.80,87.47 496.20,85.76 497.60,86.23 499.00,85.72 500.40,87.76 501.80,87.07 503.20,86.54 504.60,85.33 506.00,86.59 507.40,87.75 508.80,86.69 510.20,86.45 511.60,87.48 513.00,85.82 514.40,86.62 515.80,87.02 517.20,86.05 518.60,85.97 520.00,86.84 521.40,86.59 522.80,86.63 524.20,86.68 525.60,86.61 527.00,85.96 528.40,86.27 529.80,87.05 531.20,87.49 532.60,87.54 534.00,85.32 535.40,86.60 536.80,86.31 538.20,85.59 539.60,85.75 541.00,85.52 542.40,86.14 543.80,83.32 545.20,84.32 546.60,83.42 548.00,83.07 549.40,83.74 550.80,82.75 552.20,80.50 553.60,80.51 555.00,80.06 556.40,77.94 557.80,78.59 559.20,76.80 560.60,76.11 562.00,75.58 563.40,77.01 564.80,76.49 566.20,77.55 567.60,80.78 569.00,80.04 570.40,81.25 571.80,81.09 573.20,82.86 574.60,81.79 576.00,81.35 577.40,80.38 578.80,79.39 580.20,78.05 581.60,77.23 583.00,77.64 584.40,76.53 585.80,76.87 587.20,73.49 588.60,72.02 590.00,70.67 591.40,72.62 592.80,72.21 594.20,76.04 595.60,78.16 597.00,78.04 598.40,79.96 599.80,78.50 601.20,81.15 602.60,81.15 604.00,84.00 605.40,84.40 606.80,84.43 608.20,86.23 609.60,86.03 611.00,85.50 612.40,85.24 613.80,84.31 615.20,85.03 616.60,86.67 618.00,84.23 619.40,85.41 620.80,84.63 622.20,86.01 623.60,85.72 625.00,85.45 626.40,84.38 627.80,85.90 629.20,87.45 630.60,86.29 632.00,86.69 633.40,85.58 634.80,84.16 636.20,85.99 637.60,86.00 639.00,85.10 640.40,85.09 641.80,85.71 643.20,85.12 644.60,86.16 646.00,86.11 647.40,84.62 648.80,86.46 650.20,85.97 651.60,85.81 653.00,86.55 654.40,85.60 655.80,86.17 657.20,86.25 658.60,85.34 660.00,83.77 661.40,84.57 662.80,86.12 664.20,85.30 665.60,85.49 667.00,86.08 668.40,86.85 669.80,86.86 671.20,87.32 672.60,86.26 674.00,86.90 675.40,87.08 676.80,87.34"/></g>
<rect x="464.5" y="21.5" width="213" height="340" fill="none" stroke="#111" stroke-width="1"/>
<line x1="477.81" y1="361.5" x2="477.81" y2="359.9" stroke="#222" stroke-width="0.9"/>
<line x1="491.12" y1="361.5" x2="491.12" y2="358.5" stroke="#222" stroke-width="0.9"/>
<line x1="504.44" y1="361.5" x2="504.44" y2="359.9" stroke="#222" stroke-width="0.9"/>
<line x1="517.75" y1="361.5" x2="517.75" y2="358.5" stroke="#222" stroke-width="0.9"/>
<line x1="531.06" y1="361.5" x2="531.06" y2="359.9" stroke="#222" stroke-width="0.9"/>
<line x1="544.38" y1="361.5" x2="544.38" y2="358.5" stroke="#222" stroke-width="0.9"/>
<line x1="557.69" y1="361.5" x2="557.69" y2="359.9" stroke="#222" stroke-width="0.9"/>
<line x1="571.00" y1="361.5" x2="571.00" y2="358.5" stroke="#222" stroke-width="0.9"/>
<line x1="584.31" y1="361.5" x2="584.31" y2="359.9" stroke="#222" stroke-width="0.9"/>
<line x1="597.62" y1="361.5" x2="597.62" y2="358.5" stroke="#222" stroke-width="0.9"/>
<line x1="610.94" y1="361.5" x2="610.94" y2="359.9" stroke="#222" stroke-width="0.9"/>
<line x1="624.25" y1="361.5" x2="624.25" y2="358.5" stroke="#222" stroke-width="0.9"/>
<line x1="637.56" y1="361.5" x2="637.56" y2="359.9" stroke="#222" stroke-width="0.9"/>
<line x1="650.88" y1="361.5" x2="650.88" y2="358.5" stroke="#222" stroke-width="0.9"/>
<line x1="664.19" y1="361.5" x2="664.19" y2="359.9" stroke="#222" stroke-width="0.9"/>
<text x="464.50" y="372.1" text-anchor="middle" class="tk">440</text>
<text x="491.12" y="372.1" text-anchor="middle" class="tk">445</text>
<text x="517.75" y="372.1" text-anchor="middle" class="tk">450</text>
<text x="544.38" y="372.1" text-anchor="middle" class="tk">455</text>
<text x="571.00" y="372.1" text-anchor="middle" class="tk">460</text>
<text x="597.62" y="372.1" text-anchor="middle" class="tk">465</text>
<text x="624.25" y="372.1" text-anchor="middle" class="tk">470</text>
<text x="650.88" y="372.1" text-anchor="middle" class="tk">475</text>
<text x="677.50" y="372.1" text-anchor="middle" class="tk">480</text>
<text x="471.8" y="38.2" class="ttl" fill="#2a76c2">BiVO<tspan class="sub" dy="3.3">4</tspan><tspan dy="-3.3">/PEI/TiO</tspan><tspan class="sub" dy="3.3">2</tspan></text>
<text x="471.8" y="55.5" class="ttl2">Ti L edge</text>
<text x="479.8" y="77.8" class="lb">100 nm</text>
<text x="480.2" y="132.2" class="lb">90 nm</text>
<text x="480.3" y="153.4" class="lb">80 nm</text>
<text x="480.3" y="177.8" class="lb">70 nm</text>
<text x="479.5" y="201" class="lb">60 nm</text>
<text x="479.5" y="223.4" class="lb">50 nm</text>
<text x="479.8" y="247.2" class="lb">40 nm</text>
<text x="480.4" y="270.5" class="lb">30 nm</text>
<text x="480.4" y="294.4" class="lb">20 nm</text>
<text x="480.4" y="318.6" class="lb">10 nm</text>
<text x="480.4" y="342.5" class="lb">0 nm</text>
<text x="555.5" y="338" class="lb">2p<tspan class="sub2" dy="2.7">3/2</tspan></text>
<text x="584.7" y="338" class="lb">2p<tspan class="sub2" dy="2.7">1/2</tspan></text>
<text x="550.2" y="351.3" class="lb">(458.5)</text>
<text x="579.8" y="351.3" class="lb">(463.8)</text>
<text x="571.2" y="389.3" text-anchor="middle" class="ax">Energy loss (eV)</text>
<text transform="translate(455.2,245) rotate(-90)" class="ax" style="stroke:#111;stroke-width:0.6px">Intensity (counts)</text>
<!-- arrows -->
<g fill="#3a82c8" stroke="#3a82c8">
<line x1="585" y1="40.5" x2="597.8" y2="40.5" stroke-width="1.2"/>
<path d="M577.8,40.5 L586.6,36.2 L586.6,44.8 Z" stroke="none"/>
<line x1="559" y1="55.8" x2="567.7" y2="55.8" stroke-width="1.5"/>
<path d="M554.2,55.8 L560.4,51.7 L560.4,59.9 Z" stroke="none"/>
</g>
</svg>
</body></html>
